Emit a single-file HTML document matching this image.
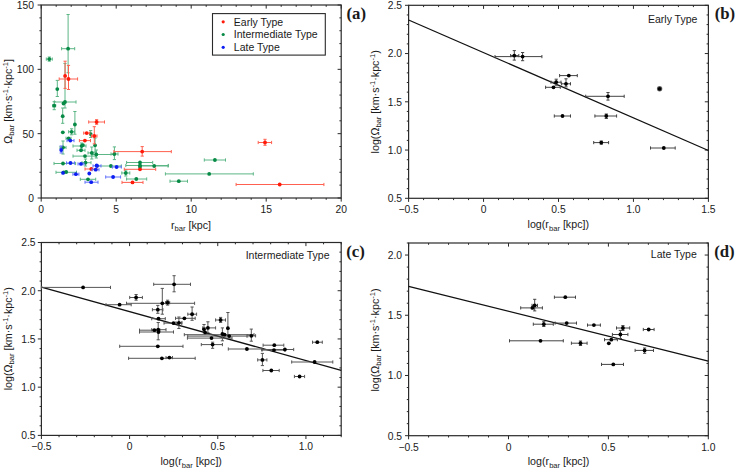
<!DOCTYPE html>
<html><head><meta charset="utf-8"><style>
html,body{margin:0;padding:0;background:#fff;}
svg{display:block;}
text{font-family:"Liberation Sans", sans-serif;fill:#1a1a1a;}
</style></head><body>
<svg width="735" height="469" viewBox="0 0 735 469">
<rect width="735" height="469" fill="#fff"/>
<g>
<rect x="41.20" y="5.00" width="300.00" height="193.00" fill="none" stroke="#2a2a2a" stroke-width="1.2"/>
<line x1="41.20" y1="198.00" x2="41.20" y2="201.60" stroke="#2a2a2a" stroke-width="1.0"/>
<line x1="41.20" y1="5.00" x2="41.20" y2="8.60" stroke="#2a2a2a" stroke-width="1.0"/>
<line x1="56.20" y1="198.00" x2="56.20" y2="199.80" stroke="#2a2a2a" stroke-width="1.0"/>
<line x1="56.20" y1="5.00" x2="56.20" y2="6.80" stroke="#2a2a2a" stroke-width="1.0"/>
<line x1="71.20" y1="198.00" x2="71.20" y2="199.80" stroke="#2a2a2a" stroke-width="1.0"/>
<line x1="71.20" y1="5.00" x2="71.20" y2="6.80" stroke="#2a2a2a" stroke-width="1.0"/>
<line x1="86.20" y1="198.00" x2="86.20" y2="199.80" stroke="#2a2a2a" stroke-width="1.0"/>
<line x1="86.20" y1="5.00" x2="86.20" y2="6.80" stroke="#2a2a2a" stroke-width="1.0"/>
<line x1="101.20" y1="198.00" x2="101.20" y2="199.80" stroke="#2a2a2a" stroke-width="1.0"/>
<line x1="101.20" y1="5.00" x2="101.20" y2="6.80" stroke="#2a2a2a" stroke-width="1.0"/>
<line x1="116.20" y1="198.00" x2="116.20" y2="201.60" stroke="#2a2a2a" stroke-width="1.0"/>
<line x1="116.20" y1="5.00" x2="116.20" y2="8.60" stroke="#2a2a2a" stroke-width="1.0"/>
<line x1="131.20" y1="198.00" x2="131.20" y2="199.80" stroke="#2a2a2a" stroke-width="1.0"/>
<line x1="131.20" y1="5.00" x2="131.20" y2="6.80" stroke="#2a2a2a" stroke-width="1.0"/>
<line x1="146.20" y1="198.00" x2="146.20" y2="199.80" stroke="#2a2a2a" stroke-width="1.0"/>
<line x1="146.20" y1="5.00" x2="146.20" y2="6.80" stroke="#2a2a2a" stroke-width="1.0"/>
<line x1="161.20" y1="198.00" x2="161.20" y2="199.80" stroke="#2a2a2a" stroke-width="1.0"/>
<line x1="161.20" y1="5.00" x2="161.20" y2="6.80" stroke="#2a2a2a" stroke-width="1.0"/>
<line x1="176.20" y1="198.00" x2="176.20" y2="199.80" stroke="#2a2a2a" stroke-width="1.0"/>
<line x1="176.20" y1="5.00" x2="176.20" y2="6.80" stroke="#2a2a2a" stroke-width="1.0"/>
<line x1="191.20" y1="198.00" x2="191.20" y2="201.60" stroke="#2a2a2a" stroke-width="1.0"/>
<line x1="191.20" y1="5.00" x2="191.20" y2="8.60" stroke="#2a2a2a" stroke-width="1.0"/>
<line x1="206.20" y1="198.00" x2="206.20" y2="199.80" stroke="#2a2a2a" stroke-width="1.0"/>
<line x1="206.20" y1="5.00" x2="206.20" y2="6.80" stroke="#2a2a2a" stroke-width="1.0"/>
<line x1="221.20" y1="198.00" x2="221.20" y2="199.80" stroke="#2a2a2a" stroke-width="1.0"/>
<line x1="221.20" y1="5.00" x2="221.20" y2="6.80" stroke="#2a2a2a" stroke-width="1.0"/>
<line x1="236.20" y1="198.00" x2="236.20" y2="199.80" stroke="#2a2a2a" stroke-width="1.0"/>
<line x1="236.20" y1="5.00" x2="236.20" y2="6.80" stroke="#2a2a2a" stroke-width="1.0"/>
<line x1="251.20" y1="198.00" x2="251.20" y2="199.80" stroke="#2a2a2a" stroke-width="1.0"/>
<line x1="251.20" y1="5.00" x2="251.20" y2="6.80" stroke="#2a2a2a" stroke-width="1.0"/>
<line x1="266.20" y1="198.00" x2="266.20" y2="201.60" stroke="#2a2a2a" stroke-width="1.0"/>
<line x1="266.20" y1="5.00" x2="266.20" y2="8.60" stroke="#2a2a2a" stroke-width="1.0"/>
<line x1="281.20" y1="198.00" x2="281.20" y2="199.80" stroke="#2a2a2a" stroke-width="1.0"/>
<line x1="281.20" y1="5.00" x2="281.20" y2="6.80" stroke="#2a2a2a" stroke-width="1.0"/>
<line x1="296.20" y1="198.00" x2="296.20" y2="199.80" stroke="#2a2a2a" stroke-width="1.0"/>
<line x1="296.20" y1="5.00" x2="296.20" y2="6.80" stroke="#2a2a2a" stroke-width="1.0"/>
<line x1="311.20" y1="198.00" x2="311.20" y2="199.80" stroke="#2a2a2a" stroke-width="1.0"/>
<line x1="311.20" y1="5.00" x2="311.20" y2="6.80" stroke="#2a2a2a" stroke-width="1.0"/>
<line x1="326.20" y1="198.00" x2="326.20" y2="199.80" stroke="#2a2a2a" stroke-width="1.0"/>
<line x1="326.20" y1="5.00" x2="326.20" y2="6.80" stroke="#2a2a2a" stroke-width="1.0"/>
<line x1="341.20" y1="198.00" x2="341.20" y2="201.60" stroke="#2a2a2a" stroke-width="1.0"/>
<line x1="341.20" y1="5.00" x2="341.20" y2="8.60" stroke="#2a2a2a" stroke-width="1.0"/>
<line x1="37.60" y1="198.00" x2="41.20" y2="198.00" stroke="#2a2a2a" stroke-width="1.0"/>
<line x1="337.60" y1="198.00" x2="341.20" y2="198.00" stroke="#2a2a2a" stroke-width="1.0"/>
<line x1="39.40" y1="185.13" x2="41.20" y2="185.13" stroke="#2a2a2a" stroke-width="1.0"/>
<line x1="339.40" y1="185.13" x2="341.20" y2="185.13" stroke="#2a2a2a" stroke-width="1.0"/>
<line x1="39.40" y1="172.27" x2="41.20" y2="172.27" stroke="#2a2a2a" stroke-width="1.0"/>
<line x1="339.40" y1="172.27" x2="341.20" y2="172.27" stroke="#2a2a2a" stroke-width="1.0"/>
<line x1="39.40" y1="159.40" x2="41.20" y2="159.40" stroke="#2a2a2a" stroke-width="1.0"/>
<line x1="339.40" y1="159.40" x2="341.20" y2="159.40" stroke="#2a2a2a" stroke-width="1.0"/>
<line x1="39.40" y1="146.53" x2="41.20" y2="146.53" stroke="#2a2a2a" stroke-width="1.0"/>
<line x1="339.40" y1="146.53" x2="341.20" y2="146.53" stroke="#2a2a2a" stroke-width="1.0"/>
<line x1="37.60" y1="133.67" x2="41.20" y2="133.67" stroke="#2a2a2a" stroke-width="1.0"/>
<line x1="337.60" y1="133.67" x2="341.20" y2="133.67" stroke="#2a2a2a" stroke-width="1.0"/>
<line x1="39.40" y1="120.80" x2="41.20" y2="120.80" stroke="#2a2a2a" stroke-width="1.0"/>
<line x1="339.40" y1="120.80" x2="341.20" y2="120.80" stroke="#2a2a2a" stroke-width="1.0"/>
<line x1="39.40" y1="107.93" x2="41.20" y2="107.93" stroke="#2a2a2a" stroke-width="1.0"/>
<line x1="339.40" y1="107.93" x2="341.20" y2="107.93" stroke="#2a2a2a" stroke-width="1.0"/>
<line x1="39.40" y1="95.07" x2="41.20" y2="95.07" stroke="#2a2a2a" stroke-width="1.0"/>
<line x1="339.40" y1="95.07" x2="341.20" y2="95.07" stroke="#2a2a2a" stroke-width="1.0"/>
<line x1="39.40" y1="82.20" x2="41.20" y2="82.20" stroke="#2a2a2a" stroke-width="1.0"/>
<line x1="339.40" y1="82.20" x2="341.20" y2="82.20" stroke="#2a2a2a" stroke-width="1.0"/>
<line x1="37.60" y1="69.33" x2="41.20" y2="69.33" stroke="#2a2a2a" stroke-width="1.0"/>
<line x1="337.60" y1="69.33" x2="341.20" y2="69.33" stroke="#2a2a2a" stroke-width="1.0"/>
<line x1="39.40" y1="56.47" x2="41.20" y2="56.47" stroke="#2a2a2a" stroke-width="1.0"/>
<line x1="339.40" y1="56.47" x2="341.20" y2="56.47" stroke="#2a2a2a" stroke-width="1.0"/>
<line x1="39.40" y1="43.60" x2="41.20" y2="43.60" stroke="#2a2a2a" stroke-width="1.0"/>
<line x1="339.40" y1="43.60" x2="341.20" y2="43.60" stroke="#2a2a2a" stroke-width="1.0"/>
<line x1="39.40" y1="30.73" x2="41.20" y2="30.73" stroke="#2a2a2a" stroke-width="1.0"/>
<line x1="339.40" y1="30.73" x2="341.20" y2="30.73" stroke="#2a2a2a" stroke-width="1.0"/>
<line x1="39.40" y1="17.87" x2="41.20" y2="17.87" stroke="#2a2a2a" stroke-width="1.0"/>
<line x1="339.40" y1="17.87" x2="341.20" y2="17.87" stroke="#2a2a2a" stroke-width="1.0"/>
<line x1="37.60" y1="5.00" x2="41.20" y2="5.00" stroke="#2a2a2a" stroke-width="1.0"/>
<line x1="337.60" y1="5.00" x2="341.20" y2="5.00" stroke="#2a2a2a" stroke-width="1.0"/>
<text x="41.20" y="212.70" font-size="10.3" text-anchor="middle" >0</text>
<text x="116.20" y="212.70" font-size="10.3" text-anchor="middle" >5</text>
<text x="191.20" y="212.70" font-size="10.3" text-anchor="middle" >10</text>
<text x="266.20" y="212.70" font-size="10.3" text-anchor="middle" >15</text>
<text x="341.20" y="212.70" font-size="10.3" text-anchor="middle" >20</text>
<text x="34.00" y="201.90" font-size="10.3" text-anchor="end" >0</text>
<text x="34.00" y="137.57" font-size="10.3" text-anchor="end" >50</text>
<text x="34.00" y="73.23" font-size="10.3" text-anchor="end" >100</text>
<text x="34.00" y="8.90" font-size="10.3" text-anchor="end" >150</text>
<line x1="61.60" y1="48.70" x2="74.70" y2="48.70" stroke="#5cb686" stroke-width="1.0"/>
<line x1="61.60" y1="47.10" x2="61.60" y2="50.30" stroke="#5cb686" stroke-width="1.0"/>
<line x1="74.70" y1="47.10" x2="74.70" y2="50.30" stroke="#5cb686" stroke-width="1.0"/>
<line x1="68.10" y1="14.50" x2="68.10" y2="72.80" stroke="#5cb686" stroke-width="1.0"/>
<line x1="66.50" y1="14.50" x2="69.70" y2="14.50" stroke="#5cb686" stroke-width="1.0"/>
<line x1="66.50" y1="72.80" x2="69.70" y2="72.80" stroke="#5cb686" stroke-width="1.0"/>
<line x1="46.30" y1="59.10" x2="52.30" y2="59.10" stroke="#5cb686" stroke-width="1.0"/>
<line x1="46.30" y1="57.50" x2="46.30" y2="60.70" stroke="#5cb686" stroke-width="1.0"/>
<line x1="52.30" y1="57.50" x2="52.30" y2="60.70" stroke="#5cb686" stroke-width="1.0"/>
<line x1="49.30" y1="57.00" x2="49.30" y2="61.20" stroke="#5cb686" stroke-width="1.0"/>
<line x1="47.70" y1="57.00" x2="50.90" y2="57.00" stroke="#5cb686" stroke-width="1.0"/>
<line x1="47.70" y1="61.20" x2="50.90" y2="61.20" stroke="#5cb686" stroke-width="1.0"/>
<line x1="57.30" y1="80.40" x2="57.30" y2="96.50" stroke="#5cb686" stroke-width="1.0"/>
<line x1="55.70" y1="80.40" x2="58.90" y2="80.40" stroke="#5cb686" stroke-width="1.0"/>
<line x1="55.70" y1="96.50" x2="58.90" y2="96.50" stroke="#5cb686" stroke-width="1.0"/>
<line x1="54.40" y1="102.00" x2="76.00" y2="102.00" stroke="#5cb686" stroke-width="1.0"/>
<line x1="54.40" y1="100.40" x2="54.40" y2="103.60" stroke="#5cb686" stroke-width="1.0"/>
<line x1="76.00" y1="100.40" x2="76.00" y2="103.60" stroke="#5cb686" stroke-width="1.0"/>
<line x1="65.00" y1="63.40" x2="65.00" y2="108.00" stroke="#5cb686" stroke-width="1.0"/>
<line x1="63.40" y1="63.40" x2="66.60" y2="63.40" stroke="#5cb686" stroke-width="1.0"/>
<line x1="63.40" y1="108.00" x2="66.60" y2="108.00" stroke="#5cb686" stroke-width="1.0"/>
<line x1="52.70" y1="105.70" x2="55.70" y2="105.70" stroke="#5cb686" stroke-width="1.0"/>
<line x1="52.70" y1="104.10" x2="52.70" y2="107.30" stroke="#5cb686" stroke-width="1.0"/>
<line x1="55.70" y1="104.10" x2="55.70" y2="107.30" stroke="#5cb686" stroke-width="1.0"/>
<line x1="54.20" y1="101.70" x2="54.20" y2="109.70" stroke="#5cb686" stroke-width="1.0"/>
<line x1="52.60" y1="101.70" x2="55.80" y2="101.70" stroke="#5cb686" stroke-width="1.0"/>
<line x1="52.60" y1="109.70" x2="55.80" y2="109.70" stroke="#5cb686" stroke-width="1.0"/>
<line x1="62.70" y1="108.00" x2="62.70" y2="123.30" stroke="#5cb686" stroke-width="1.0"/>
<line x1="61.10" y1="108.00" x2="64.30" y2="108.00" stroke="#5cb686" stroke-width="1.0"/>
<line x1="61.10" y1="123.30" x2="64.30" y2="123.30" stroke="#5cb686" stroke-width="1.0"/>
<line x1="74.90" y1="111.50" x2="74.90" y2="134.20" stroke="#5cb686" stroke-width="1.0"/>
<line x1="73.30" y1="111.50" x2="76.50" y2="111.50" stroke="#5cb686" stroke-width="1.0"/>
<line x1="73.30" y1="134.20" x2="76.50" y2="134.20" stroke="#5cb686" stroke-width="1.0"/>
<line x1="68.60" y1="131.80" x2="74.60" y2="131.80" stroke="#5cb686" stroke-width="1.0"/>
<line x1="68.60" y1="130.20" x2="68.60" y2="133.40" stroke="#5cb686" stroke-width="1.0"/>
<line x1="74.60" y1="130.20" x2="74.60" y2="133.40" stroke="#5cb686" stroke-width="1.0"/>
<line x1="71.60" y1="128.80" x2="71.60" y2="134.80" stroke="#5cb686" stroke-width="1.0"/>
<line x1="70.00" y1="128.80" x2="73.20" y2="128.80" stroke="#5cb686" stroke-width="1.0"/>
<line x1="70.00" y1="134.80" x2="73.20" y2="134.80" stroke="#5cb686" stroke-width="1.0"/>
<line x1="90.70" y1="130.50" x2="90.70" y2="137.50" stroke="#5cb686" stroke-width="1.0"/>
<line x1="89.10" y1="130.50" x2="92.30" y2="130.50" stroke="#5cb686" stroke-width="1.0"/>
<line x1="89.10" y1="137.50" x2="92.30" y2="137.50" stroke="#5cb686" stroke-width="1.0"/>
<line x1="66.00" y1="138.30" x2="71.00" y2="138.30" stroke="#5cb686" stroke-width="1.0"/>
<line x1="66.00" y1="136.70" x2="66.00" y2="139.90" stroke="#5cb686" stroke-width="1.0"/>
<line x1="71.00" y1="136.70" x2="71.00" y2="139.90" stroke="#5cb686" stroke-width="1.0"/>
<line x1="60.00" y1="147.50" x2="66.00" y2="147.50" stroke="#5cb686" stroke-width="1.0"/>
<line x1="60.00" y1="145.90" x2="60.00" y2="149.10" stroke="#5cb686" stroke-width="1.0"/>
<line x1="66.00" y1="145.90" x2="66.00" y2="149.10" stroke="#5cb686" stroke-width="1.0"/>
<line x1="63.00" y1="141.00" x2="63.00" y2="154.00" stroke="#5cb686" stroke-width="1.0"/>
<line x1="61.40" y1="141.00" x2="64.60" y2="141.00" stroke="#5cb686" stroke-width="1.0"/>
<line x1="61.40" y1="154.00" x2="64.60" y2="154.00" stroke="#5cb686" stroke-width="1.0"/>
<line x1="73.00" y1="146.00" x2="86.00" y2="146.00" stroke="#5cb686" stroke-width="1.0"/>
<line x1="73.00" y1="144.40" x2="73.00" y2="147.60" stroke="#5cb686" stroke-width="1.0"/>
<line x1="86.00" y1="144.40" x2="86.00" y2="147.60" stroke="#5cb686" stroke-width="1.0"/>
<line x1="81.60" y1="143.00" x2="81.60" y2="149.00" stroke="#5cb686" stroke-width="1.0"/>
<line x1="80.00" y1="143.00" x2="83.20" y2="143.00" stroke="#5cb686" stroke-width="1.0"/>
<line x1="80.00" y1="149.00" x2="83.20" y2="149.00" stroke="#5cb686" stroke-width="1.0"/>
<line x1="77.00" y1="150.30" x2="85.00" y2="150.30" stroke="#5cb686" stroke-width="1.0"/>
<line x1="77.00" y1="148.70" x2="77.00" y2="151.90" stroke="#5cb686" stroke-width="1.0"/>
<line x1="85.00" y1="148.70" x2="85.00" y2="151.90" stroke="#5cb686" stroke-width="1.0"/>
<line x1="95.10" y1="138.00" x2="95.10" y2="152.00" stroke="#5cb686" stroke-width="1.0"/>
<line x1="93.50" y1="138.00" x2="96.70" y2="138.00" stroke="#5cb686" stroke-width="1.0"/>
<line x1="93.50" y1="152.00" x2="96.70" y2="152.00" stroke="#5cb686" stroke-width="1.0"/>
<line x1="88.00" y1="152.90" x2="96.00" y2="152.90" stroke="#5cb686" stroke-width="1.0"/>
<line x1="88.00" y1="151.30" x2="88.00" y2="154.50" stroke="#5cb686" stroke-width="1.0"/>
<line x1="96.00" y1="151.30" x2="96.00" y2="154.50" stroke="#5cb686" stroke-width="1.0"/>
<line x1="91.80" y1="147.00" x2="91.80" y2="159.00" stroke="#5cb686" stroke-width="1.0"/>
<line x1="90.20" y1="147.00" x2="93.40" y2="147.00" stroke="#5cb686" stroke-width="1.0"/>
<line x1="90.20" y1="159.00" x2="93.40" y2="159.00" stroke="#5cb686" stroke-width="1.0"/>
<line x1="92.00" y1="154.50" x2="114.00" y2="154.50" stroke="#5cb686" stroke-width="1.0"/>
<line x1="92.00" y1="152.90" x2="92.00" y2="156.10" stroke="#5cb686" stroke-width="1.0"/>
<line x1="114.00" y1="152.90" x2="114.00" y2="156.10" stroke="#5cb686" stroke-width="1.0"/>
<line x1="96.30" y1="150.00" x2="96.30" y2="158.00" stroke="#5cb686" stroke-width="1.0"/>
<line x1="94.70" y1="150.00" x2="97.90" y2="150.00" stroke="#5cb686" stroke-width="1.0"/>
<line x1="94.70" y1="158.00" x2="97.90" y2="158.00" stroke="#5cb686" stroke-width="1.0"/>
<line x1="73.00" y1="156.10" x2="96.00" y2="156.10" stroke="#5cb686" stroke-width="1.0"/>
<line x1="73.00" y1="154.50" x2="73.00" y2="157.70" stroke="#5cb686" stroke-width="1.0"/>
<line x1="96.00" y1="154.50" x2="96.00" y2="157.70" stroke="#5cb686" stroke-width="1.0"/>
<line x1="111.00" y1="154.00" x2="118.00" y2="154.00" stroke="#5cb686" stroke-width="1.0"/>
<line x1="111.00" y1="152.40" x2="111.00" y2="155.60" stroke="#5cb686" stroke-width="1.0"/>
<line x1="118.00" y1="152.40" x2="118.00" y2="155.60" stroke="#5cb686" stroke-width="1.0"/>
<line x1="114.40" y1="146.90" x2="114.40" y2="159.60" stroke="#5cb686" stroke-width="1.0"/>
<line x1="112.80" y1="146.90" x2="116.00" y2="146.90" stroke="#5cb686" stroke-width="1.0"/>
<line x1="112.80" y1="159.60" x2="116.00" y2="159.60" stroke="#5cb686" stroke-width="1.0"/>
<line x1="54.00" y1="163.50" x2="75.60" y2="163.50" stroke="#5cb686" stroke-width="1.0"/>
<line x1="54.00" y1="161.90" x2="54.00" y2="165.10" stroke="#5cb686" stroke-width="1.0"/>
<line x1="75.60" y1="161.90" x2="75.60" y2="165.10" stroke="#5cb686" stroke-width="1.0"/>
<line x1="82.00" y1="162.70" x2="91.00" y2="162.70" stroke="#5cb686" stroke-width="1.0"/>
<line x1="82.00" y1="161.10" x2="82.00" y2="164.30" stroke="#5cb686" stroke-width="1.0"/>
<line x1="91.00" y1="161.10" x2="91.00" y2="164.30" stroke="#5cb686" stroke-width="1.0"/>
<line x1="85.50" y1="159.00" x2="85.50" y2="166.00" stroke="#5cb686" stroke-width="1.0"/>
<line x1="83.90" y1="159.00" x2="87.10" y2="159.00" stroke="#5cb686" stroke-width="1.0"/>
<line x1="83.90" y1="166.00" x2="87.10" y2="166.00" stroke="#5cb686" stroke-width="1.0"/>
<line x1="97.50" y1="166.00" x2="121.30" y2="166.00" stroke="#5cb686" stroke-width="1.0"/>
<line x1="97.50" y1="164.40" x2="97.50" y2="167.60" stroke="#5cb686" stroke-width="1.0"/>
<line x1="121.30" y1="164.40" x2="121.30" y2="167.60" stroke="#5cb686" stroke-width="1.0"/>
<line x1="56.00" y1="172.30" x2="76.50" y2="172.30" stroke="#5cb686" stroke-width="1.0"/>
<line x1="56.00" y1="170.70" x2="56.00" y2="173.90" stroke="#5cb686" stroke-width="1.0"/>
<line x1="76.50" y1="170.70" x2="76.50" y2="173.90" stroke="#5cb686" stroke-width="1.0"/>
<line x1="80.30" y1="179.30" x2="95.70" y2="179.30" stroke="#5cb686" stroke-width="1.0"/>
<line x1="80.30" y1="177.70" x2="80.30" y2="180.90" stroke="#5cb686" stroke-width="1.0"/>
<line x1="95.70" y1="177.70" x2="95.70" y2="180.90" stroke="#5cb686" stroke-width="1.0"/>
<line x1="121.80" y1="173.00" x2="129.80" y2="173.00" stroke="#5cb686" stroke-width="1.0"/>
<line x1="121.80" y1="171.40" x2="121.80" y2="174.60" stroke="#5cb686" stroke-width="1.0"/>
<line x1="129.80" y1="171.40" x2="129.80" y2="174.60" stroke="#5cb686" stroke-width="1.0"/>
<line x1="125.80" y1="170.00" x2="125.80" y2="176.00" stroke="#5cb686" stroke-width="1.0"/>
<line x1="124.20" y1="170.00" x2="127.40" y2="170.00" stroke="#5cb686" stroke-width="1.0"/>
<line x1="124.20" y1="176.00" x2="127.40" y2="176.00" stroke="#5cb686" stroke-width="1.0"/>
<line x1="126.60" y1="179.00" x2="146.70" y2="179.00" stroke="#5cb686" stroke-width="1.0"/>
<line x1="126.60" y1="177.40" x2="126.60" y2="180.60" stroke="#5cb686" stroke-width="1.0"/>
<line x1="146.70" y1="177.40" x2="146.70" y2="180.60" stroke="#5cb686" stroke-width="1.0"/>
<line x1="126.60" y1="162.50" x2="152.70" y2="162.50" stroke="#5cb686" stroke-width="1.0"/>
<line x1="126.60" y1="160.90" x2="126.60" y2="164.10" stroke="#5cb686" stroke-width="1.0"/>
<line x1="152.70" y1="160.90" x2="152.70" y2="164.10" stroke="#5cb686" stroke-width="1.0"/>
<line x1="125.80" y1="165.50" x2="168.40" y2="165.50" stroke="#5cb686" stroke-width="1.0"/>
<line x1="125.80" y1="163.90" x2="125.80" y2="167.10" stroke="#5cb686" stroke-width="1.0"/>
<line x1="168.40" y1="163.90" x2="168.40" y2="167.10" stroke="#5cb686" stroke-width="1.0"/>
<line x1="140.00" y1="166.00" x2="168.00" y2="166.00" stroke="#5cb686" stroke-width="1.0"/>
<line x1="140.00" y1="164.40" x2="140.00" y2="167.60" stroke="#5cb686" stroke-width="1.0"/>
<line x1="168.00" y1="164.40" x2="168.00" y2="167.60" stroke="#5cb686" stroke-width="1.0"/>
<line x1="170.00" y1="181.20" x2="187.50" y2="181.20" stroke="#5cb686" stroke-width="1.0"/>
<line x1="170.00" y1="179.60" x2="170.00" y2="182.80" stroke="#5cb686" stroke-width="1.0"/>
<line x1="187.50" y1="179.60" x2="187.50" y2="182.80" stroke="#5cb686" stroke-width="1.0"/>
<line x1="165.40" y1="173.90" x2="253.30" y2="173.90" stroke="#5cb686" stroke-width="1.0"/>
<line x1="165.40" y1="172.30" x2="165.40" y2="175.50" stroke="#5cb686" stroke-width="1.0"/>
<line x1="253.30" y1="172.30" x2="253.30" y2="175.50" stroke="#5cb686" stroke-width="1.0"/>
<line x1="204.30" y1="160.00" x2="225.50" y2="160.00" stroke="#5cb686" stroke-width="1.0"/>
<line x1="204.30" y1="158.40" x2="204.30" y2="161.60" stroke="#5cb686" stroke-width="1.0"/>
<line x1="225.50" y1="158.40" x2="225.50" y2="161.60" stroke="#5cb686" stroke-width="1.0"/>
<circle cx="68.10" cy="48.70" r="1.9" fill="#078a45"/>
<circle cx="49.30" cy="59.10" r="1.9" fill="#078a45"/>
<circle cx="57.30" cy="89.10" r="1.9" fill="#078a45"/>
<circle cx="65.00" cy="102.00" r="1.9" fill="#078a45"/>
<circle cx="63.50" cy="103.50" r="1.9" fill="#078a45"/>
<circle cx="54.20" cy="105.70" r="1.9" fill="#078a45"/>
<circle cx="62.70" cy="116.20" r="1.9" fill="#078a45"/>
<circle cx="74.90" cy="124.50" r="1.9" fill="#078a45"/>
<circle cx="62.80" cy="132.30" r="1.9" fill="#078a45"/>
<circle cx="71.60" cy="131.80" r="1.9" fill="#078a45"/>
<circle cx="90.70" cy="134.10" r="1.9" fill="#078a45"/>
<circle cx="68.60" cy="138.30" r="1.9" fill="#078a45"/>
<circle cx="63.00" cy="147.50" r="1.9" fill="#078a45"/>
<circle cx="81.60" cy="146.00" r="1.9" fill="#078a45"/>
<circle cx="82.90" cy="145.10" r="1.9" fill="#078a45"/>
<circle cx="81.00" cy="150.30" r="1.9" fill="#078a45"/>
<circle cx="95.10" cy="145.30" r="1.9" fill="#078a45"/>
<circle cx="91.80" cy="152.90" r="1.9" fill="#078a45"/>
<circle cx="96.30" cy="154.50" r="1.9" fill="#078a45"/>
<circle cx="85.00" cy="156.10" r="1.9" fill="#078a45"/>
<circle cx="114.40" cy="154.00" r="1.9" fill="#078a45"/>
<circle cx="63.00" cy="163.50" r="1.9" fill="#078a45"/>
<circle cx="85.50" cy="162.70" r="1.9" fill="#078a45"/>
<circle cx="110.90" cy="166.00" r="1.9" fill="#078a45"/>
<circle cx="63.70" cy="172.30" r="1.9" fill="#078a45"/>
<circle cx="66.20" cy="172.00" r="1.9" fill="#078a45"/>
<circle cx="88.00" cy="179.30" r="1.9" fill="#078a45"/>
<circle cx="125.80" cy="173.00" r="1.9" fill="#078a45"/>
<circle cx="136.30" cy="179.00" r="1.9" fill="#078a45"/>
<circle cx="140.00" cy="162.50" r="1.9" fill="#078a45"/>
<circle cx="140.00" cy="165.50" r="1.9" fill="#078a45"/>
<circle cx="140.00" cy="167.00" r="1.9" fill="#078a45"/>
<circle cx="154.20" cy="166.00" r="1.9" fill="#078a45"/>
<circle cx="178.80" cy="181.20" r="1.9" fill="#078a45"/>
<circle cx="209.20" cy="173.90" r="1.9" fill="#078a45"/>
<circle cx="214.90" cy="160.00" r="1.9" fill="#078a45"/>
<line x1="65.10" y1="61.20" x2="65.10" y2="88.40" stroke="#ff6050" stroke-width="1.0"/>
<line x1="63.50" y1="61.20" x2="66.70" y2="61.20" stroke="#ff6050" stroke-width="1.0"/>
<line x1="63.50" y1="88.40" x2="66.70" y2="88.40" stroke="#ff6050" stroke-width="1.0"/>
<line x1="59.20" y1="79.00" x2="77.60" y2="79.00" stroke="#ff6050" stroke-width="1.0"/>
<line x1="59.20" y1="77.40" x2="59.20" y2="80.60" stroke="#ff6050" stroke-width="1.0"/>
<line x1="77.60" y1="77.40" x2="77.60" y2="80.60" stroke="#ff6050" stroke-width="1.0"/>
<line x1="68.50" y1="65.40" x2="68.50" y2="89.50" stroke="#ff6050" stroke-width="1.0"/>
<line x1="66.90" y1="65.40" x2="70.10" y2="65.40" stroke="#ff6050" stroke-width="1.0"/>
<line x1="66.90" y1="89.50" x2="70.10" y2="89.50" stroke="#ff6050" stroke-width="1.0"/>
<line x1="88.70" y1="122.00" x2="104.50" y2="122.00" stroke="#ff6050" stroke-width="1.0"/>
<line x1="88.70" y1="120.40" x2="88.70" y2="123.60" stroke="#ff6050" stroke-width="1.0"/>
<line x1="104.50" y1="120.40" x2="104.50" y2="123.60" stroke="#ff6050" stroke-width="1.0"/>
<line x1="96.60" y1="119.70" x2="96.60" y2="124.30" stroke="#ff6050" stroke-width="1.0"/>
<line x1="95.00" y1="119.70" x2="98.20" y2="119.70" stroke="#ff6050" stroke-width="1.0"/>
<line x1="95.00" y1="124.30" x2="98.20" y2="124.30" stroke="#ff6050" stroke-width="1.0"/>
<line x1="83.70" y1="133.10" x2="89.70" y2="133.10" stroke="#ff6050" stroke-width="1.0"/>
<line x1="83.70" y1="131.50" x2="83.70" y2="134.70" stroke="#ff6050" stroke-width="1.0"/>
<line x1="89.70" y1="131.50" x2="89.70" y2="134.70" stroke="#ff6050" stroke-width="1.0"/>
<line x1="91.50" y1="136.00" x2="97.00" y2="136.00" stroke="#ff6050" stroke-width="1.0"/>
<line x1="91.50" y1="134.40" x2="91.50" y2="137.60" stroke="#ff6050" stroke-width="1.0"/>
<line x1="97.00" y1="134.40" x2="97.00" y2="137.60" stroke="#ff6050" stroke-width="1.0"/>
<line x1="94.30" y1="126.70" x2="94.30" y2="143.90" stroke="#ff6050" stroke-width="1.0"/>
<line x1="92.70" y1="126.70" x2="95.90" y2="126.70" stroke="#ff6050" stroke-width="1.0"/>
<line x1="92.70" y1="143.90" x2="95.90" y2="143.90" stroke="#ff6050" stroke-width="1.0"/>
<line x1="79.40" y1="140.60" x2="90.50" y2="140.60" stroke="#ff6050" stroke-width="1.0"/>
<line x1="79.40" y1="139.00" x2="79.40" y2="142.20" stroke="#ff6050" stroke-width="1.0"/>
<line x1="90.50" y1="139.00" x2="90.50" y2="142.20" stroke="#ff6050" stroke-width="1.0"/>
<line x1="85.00" y1="169.00" x2="97.00" y2="169.00" stroke="#ff6050" stroke-width="1.0"/>
<line x1="85.00" y1="167.40" x2="85.00" y2="170.60" stroke="#ff6050" stroke-width="1.0"/>
<line x1="97.00" y1="167.40" x2="97.00" y2="170.60" stroke="#ff6050" stroke-width="1.0"/>
<line x1="113.90" y1="151.60" x2="171.30" y2="151.60" stroke="#ff6050" stroke-width="1.0"/>
<line x1="113.90" y1="150.00" x2="113.90" y2="153.20" stroke="#ff6050" stroke-width="1.0"/>
<line x1="171.30" y1="150.00" x2="171.30" y2="153.20" stroke="#ff6050" stroke-width="1.0"/>
<line x1="142.20" y1="146.60" x2="142.20" y2="156.10" stroke="#ff6050" stroke-width="1.0"/>
<line x1="140.60" y1="146.60" x2="143.80" y2="146.60" stroke="#ff6050" stroke-width="1.0"/>
<line x1="140.60" y1="156.10" x2="143.80" y2="156.10" stroke="#ff6050" stroke-width="1.0"/>
<line x1="124.30" y1="169.30" x2="155.70" y2="169.30" stroke="#ff6050" stroke-width="1.0"/>
<line x1="124.30" y1="167.70" x2="124.30" y2="170.90" stroke="#ff6050" stroke-width="1.0"/>
<line x1="155.70" y1="167.70" x2="155.70" y2="170.90" stroke="#ff6050" stroke-width="1.0"/>
<line x1="122.00" y1="182.40" x2="143.00" y2="182.40" stroke="#ff6050" stroke-width="1.0"/>
<line x1="122.00" y1="180.80" x2="122.00" y2="184.00" stroke="#ff6050" stroke-width="1.0"/>
<line x1="143.00" y1="180.80" x2="143.00" y2="184.00" stroke="#ff6050" stroke-width="1.0"/>
<line x1="258.20" y1="142.50" x2="271.60" y2="142.50" stroke="#ff6050" stroke-width="1.0"/>
<line x1="258.20" y1="140.90" x2="258.20" y2="144.10" stroke="#ff6050" stroke-width="1.0"/>
<line x1="271.60" y1="140.90" x2="271.60" y2="144.10" stroke="#ff6050" stroke-width="1.0"/>
<line x1="265.00" y1="139.30" x2="265.00" y2="145.30" stroke="#ff6050" stroke-width="1.0"/>
<line x1="263.40" y1="139.30" x2="266.60" y2="139.30" stroke="#ff6050" stroke-width="1.0"/>
<line x1="263.40" y1="145.30" x2="266.60" y2="145.30" stroke="#ff6050" stroke-width="1.0"/>
<line x1="236.10" y1="184.50" x2="323.90" y2="184.50" stroke="#ff6050" stroke-width="1.0"/>
<line x1="236.10" y1="182.90" x2="236.10" y2="186.10" stroke="#ff6050" stroke-width="1.0"/>
<line x1="323.90" y1="182.90" x2="323.90" y2="186.10" stroke="#ff6050" stroke-width="1.0"/>
<circle cx="65.10" cy="75.90" r="1.9" fill="#ff1a0a"/>
<circle cx="68.50" cy="79.00" r="1.9" fill="#ff1a0a"/>
<circle cx="96.60" cy="122.00" r="1.9" fill="#ff1a0a"/>
<circle cx="86.70" cy="133.10" r="1.9" fill="#ff1a0a"/>
<circle cx="94.30" cy="136.00" r="1.9" fill="#ff1a0a"/>
<circle cx="84.90" cy="140.60" r="1.9" fill="#ff1a0a"/>
<circle cx="91.30" cy="169.00" r="1.9" fill="#ff1a0a"/>
<circle cx="142.20" cy="151.60" r="1.9" fill="#ff1a0a"/>
<circle cx="140.00" cy="169.30" r="1.9" fill="#ff1a0a"/>
<circle cx="132.50" cy="182.40" r="1.9" fill="#ff1a0a"/>
<circle cx="265.00" cy="142.50" r="1.9" fill="#ff1a0a"/>
<circle cx="279.70" cy="184.50" r="1.9" fill="#ff1a0a"/>
<line x1="67.00" y1="140.60" x2="74.00" y2="140.60" stroke="#6272fa" stroke-width="1.0"/>
<line x1="67.00" y1="139.00" x2="67.00" y2="142.20" stroke="#6272fa" stroke-width="1.0"/>
<line x1="74.00" y1="139.00" x2="74.00" y2="142.20" stroke="#6272fa" stroke-width="1.0"/>
<line x1="61.20" y1="146.00" x2="61.20" y2="153.00" stroke="#6272fa" stroke-width="1.0"/>
<line x1="59.60" y1="146.00" x2="62.80" y2="146.00" stroke="#6272fa" stroke-width="1.0"/>
<line x1="59.60" y1="153.00" x2="62.80" y2="153.00" stroke="#6272fa" stroke-width="1.0"/>
<line x1="66.50" y1="163.00" x2="74.50" y2="163.00" stroke="#6272fa" stroke-width="1.0"/>
<line x1="66.50" y1="161.40" x2="66.50" y2="164.60" stroke="#6272fa" stroke-width="1.0"/>
<line x1="74.50" y1="161.40" x2="74.50" y2="164.60" stroke="#6272fa" stroke-width="1.0"/>
<line x1="78.00" y1="163.90" x2="84.00" y2="163.90" stroke="#6272fa" stroke-width="1.0"/>
<line x1="78.00" y1="162.30" x2="78.00" y2="165.50" stroke="#6272fa" stroke-width="1.0"/>
<line x1="84.00" y1="162.30" x2="84.00" y2="165.50" stroke="#6272fa" stroke-width="1.0"/>
<line x1="93.00" y1="165.90" x2="101.00" y2="165.90" stroke="#6272fa" stroke-width="1.0"/>
<line x1="93.00" y1="164.30" x2="93.00" y2="167.50" stroke="#6272fa" stroke-width="1.0"/>
<line x1="101.00" y1="164.30" x2="101.00" y2="167.50" stroke="#6272fa" stroke-width="1.0"/>
<line x1="72.90" y1="174.20" x2="78.90" y2="174.20" stroke="#6272fa" stroke-width="1.0"/>
<line x1="72.90" y1="172.60" x2="72.90" y2="175.80" stroke="#6272fa" stroke-width="1.0"/>
<line x1="78.90" y1="172.60" x2="78.90" y2="175.80" stroke="#6272fa" stroke-width="1.0"/>
<line x1="92.00" y1="169.70" x2="99.00" y2="169.70" stroke="#6272fa" stroke-width="1.0"/>
<line x1="92.00" y1="168.10" x2="92.00" y2="171.30" stroke="#6272fa" stroke-width="1.0"/>
<line x1="99.00" y1="168.10" x2="99.00" y2="171.30" stroke="#6272fa" stroke-width="1.0"/>
<line x1="85.00" y1="182.20" x2="98.00" y2="182.20" stroke="#6272fa" stroke-width="1.0"/>
<line x1="85.00" y1="180.60" x2="85.00" y2="183.80" stroke="#6272fa" stroke-width="1.0"/>
<line x1="98.00" y1="180.60" x2="98.00" y2="183.80" stroke="#6272fa" stroke-width="1.0"/>
<line x1="105.70" y1="177.00" x2="120.60" y2="177.00" stroke="#6272fa" stroke-width="1.0"/>
<line x1="105.70" y1="175.40" x2="105.70" y2="178.60" stroke="#6272fa" stroke-width="1.0"/>
<line x1="120.60" y1="175.40" x2="120.60" y2="178.60" stroke="#6272fa" stroke-width="1.0"/>
<line x1="112.40" y1="167.00" x2="121.30" y2="167.00" stroke="#6272fa" stroke-width="1.0"/>
<line x1="112.40" y1="165.40" x2="112.40" y2="168.60" stroke="#6272fa" stroke-width="1.0"/>
<line x1="121.30" y1="165.40" x2="121.30" y2="168.60" stroke="#6272fa" stroke-width="1.0"/>
<circle cx="70.30" cy="140.60" r="1.9" fill="#0c1ef2"/>
<circle cx="61.20" cy="150.00" r="1.9" fill="#0c1ef2"/>
<circle cx="70.50" cy="163.00" r="1.9" fill="#0c1ef2"/>
<circle cx="81.00" cy="163.90" r="1.9" fill="#0c1ef2"/>
<circle cx="97.00" cy="165.90" r="1.9" fill="#0c1ef2"/>
<circle cx="96.70" cy="165.50" r="1.9" fill="#0c1ef2"/>
<circle cx="63.00" cy="172.90" r="1.9" fill="#0c1ef2"/>
<circle cx="75.90" cy="174.20" r="1.9" fill="#0c1ef2"/>
<circle cx="89.30" cy="173.50" r="1.9" fill="#0c1ef2"/>
<circle cx="95.70" cy="169.70" r="1.9" fill="#0c1ef2"/>
<circle cx="91.20" cy="182.20" r="1.9" fill="#0c1ef2"/>
<circle cx="113.10" cy="177.00" r="1.9" fill="#0c1ef2"/>
<circle cx="116.60" cy="167.00" r="1.9" fill="#0c1ef2"/>
<rect x="212.5" y="13.6" width="112.8" height="41.5" fill="#fff" stroke="#2a2a2a" stroke-width="1.1"/>
<circle cx="223.2" cy="21.8" r="1.6" fill="#ff1a0a"/>
<text x="233.80" y="25.50" font-size="10.5" text-anchor="start" >Early Type</text>
<circle cx="223.2" cy="34.5" r="1.6" fill="#078a45"/>
<text x="233.80" y="38.20" font-size="10.5" text-anchor="start" >Intermediate Type</text>
<circle cx="223.2" cy="47.3" r="1.6" fill="#0c1ef2"/>
<text x="233.80" y="51.00" font-size="10.5" text-anchor="start" >Late Type</text>
</g>
<rect x="408.60" y="5.30" width="299.80" height="193.00" fill="none" stroke="#2a2a2a" stroke-width="1.2"/>
<line x1="408.60" y1="198.30" x2="408.60" y2="201.90" stroke="#2a2a2a" stroke-width="1.0"/>
<line x1="408.60" y1="5.30" x2="408.60" y2="8.90" stroke="#2a2a2a" stroke-width="1.0"/>
<line x1="423.59" y1="198.30" x2="423.59" y2="200.10" stroke="#2a2a2a" stroke-width="1.0"/>
<line x1="423.59" y1="5.30" x2="423.59" y2="7.10" stroke="#2a2a2a" stroke-width="1.0"/>
<line x1="438.58" y1="198.30" x2="438.58" y2="200.10" stroke="#2a2a2a" stroke-width="1.0"/>
<line x1="438.58" y1="5.30" x2="438.58" y2="7.10" stroke="#2a2a2a" stroke-width="1.0"/>
<line x1="453.57" y1="198.30" x2="453.57" y2="200.10" stroke="#2a2a2a" stroke-width="1.0"/>
<line x1="453.57" y1="5.30" x2="453.57" y2="7.10" stroke="#2a2a2a" stroke-width="1.0"/>
<line x1="468.56" y1="198.30" x2="468.56" y2="200.10" stroke="#2a2a2a" stroke-width="1.0"/>
<line x1="468.56" y1="5.30" x2="468.56" y2="7.10" stroke="#2a2a2a" stroke-width="1.0"/>
<line x1="483.55" y1="198.30" x2="483.55" y2="201.90" stroke="#2a2a2a" stroke-width="1.0"/>
<line x1="483.55" y1="5.30" x2="483.55" y2="8.90" stroke="#2a2a2a" stroke-width="1.0"/>
<line x1="498.54" y1="198.30" x2="498.54" y2="200.10" stroke="#2a2a2a" stroke-width="1.0"/>
<line x1="498.54" y1="5.30" x2="498.54" y2="7.10" stroke="#2a2a2a" stroke-width="1.0"/>
<line x1="513.53" y1="198.30" x2="513.53" y2="200.10" stroke="#2a2a2a" stroke-width="1.0"/>
<line x1="513.53" y1="5.30" x2="513.53" y2="7.10" stroke="#2a2a2a" stroke-width="1.0"/>
<line x1="528.52" y1="198.30" x2="528.52" y2="200.10" stroke="#2a2a2a" stroke-width="1.0"/>
<line x1="528.52" y1="5.30" x2="528.52" y2="7.10" stroke="#2a2a2a" stroke-width="1.0"/>
<line x1="543.51" y1="198.30" x2="543.51" y2="200.10" stroke="#2a2a2a" stroke-width="1.0"/>
<line x1="543.51" y1="5.30" x2="543.51" y2="7.10" stroke="#2a2a2a" stroke-width="1.0"/>
<line x1="558.50" y1="198.30" x2="558.50" y2="201.90" stroke="#2a2a2a" stroke-width="1.0"/>
<line x1="558.50" y1="5.30" x2="558.50" y2="8.90" stroke="#2a2a2a" stroke-width="1.0"/>
<line x1="573.49" y1="198.30" x2="573.49" y2="200.10" stroke="#2a2a2a" stroke-width="1.0"/>
<line x1="573.49" y1="5.30" x2="573.49" y2="7.10" stroke="#2a2a2a" stroke-width="1.0"/>
<line x1="588.48" y1="198.30" x2="588.48" y2="200.10" stroke="#2a2a2a" stroke-width="1.0"/>
<line x1="588.48" y1="5.30" x2="588.48" y2="7.10" stroke="#2a2a2a" stroke-width="1.0"/>
<line x1="603.47" y1="198.30" x2="603.47" y2="200.10" stroke="#2a2a2a" stroke-width="1.0"/>
<line x1="603.47" y1="5.30" x2="603.47" y2="7.10" stroke="#2a2a2a" stroke-width="1.0"/>
<line x1="618.46" y1="198.30" x2="618.46" y2="200.10" stroke="#2a2a2a" stroke-width="1.0"/>
<line x1="618.46" y1="5.30" x2="618.46" y2="7.10" stroke="#2a2a2a" stroke-width="1.0"/>
<line x1="633.45" y1="198.30" x2="633.45" y2="201.90" stroke="#2a2a2a" stroke-width="1.0"/>
<line x1="633.45" y1="5.30" x2="633.45" y2="8.90" stroke="#2a2a2a" stroke-width="1.0"/>
<line x1="648.44" y1="198.30" x2="648.44" y2="200.10" stroke="#2a2a2a" stroke-width="1.0"/>
<line x1="648.44" y1="5.30" x2="648.44" y2="7.10" stroke="#2a2a2a" stroke-width="1.0"/>
<line x1="663.43" y1="198.30" x2="663.43" y2="200.10" stroke="#2a2a2a" stroke-width="1.0"/>
<line x1="663.43" y1="5.30" x2="663.43" y2="7.10" stroke="#2a2a2a" stroke-width="1.0"/>
<line x1="678.42" y1="198.30" x2="678.42" y2="200.10" stroke="#2a2a2a" stroke-width="1.0"/>
<line x1="678.42" y1="5.30" x2="678.42" y2="7.10" stroke="#2a2a2a" stroke-width="1.0"/>
<line x1="693.41" y1="198.30" x2="693.41" y2="200.10" stroke="#2a2a2a" stroke-width="1.0"/>
<line x1="693.41" y1="5.30" x2="693.41" y2="7.10" stroke="#2a2a2a" stroke-width="1.0"/>
<line x1="708.40" y1="198.30" x2="708.40" y2="201.90" stroke="#2a2a2a" stroke-width="1.0"/>
<line x1="708.40" y1="5.30" x2="708.40" y2="8.90" stroke="#2a2a2a" stroke-width="1.0"/>
<line x1="405.00" y1="198.30" x2="408.60" y2="198.30" stroke="#2a2a2a" stroke-width="1.0"/>
<line x1="704.80" y1="198.30" x2="708.40" y2="198.30" stroke="#2a2a2a" stroke-width="1.0"/>
<line x1="406.80" y1="188.65" x2="408.60" y2="188.65" stroke="#2a2a2a" stroke-width="1.0"/>
<line x1="706.60" y1="188.65" x2="708.40" y2="188.65" stroke="#2a2a2a" stroke-width="1.0"/>
<line x1="406.80" y1="179.00" x2="408.60" y2="179.00" stroke="#2a2a2a" stroke-width="1.0"/>
<line x1="706.60" y1="179.00" x2="708.40" y2="179.00" stroke="#2a2a2a" stroke-width="1.0"/>
<line x1="406.80" y1="169.35" x2="408.60" y2="169.35" stroke="#2a2a2a" stroke-width="1.0"/>
<line x1="706.60" y1="169.35" x2="708.40" y2="169.35" stroke="#2a2a2a" stroke-width="1.0"/>
<line x1="406.80" y1="159.70" x2="408.60" y2="159.70" stroke="#2a2a2a" stroke-width="1.0"/>
<line x1="706.60" y1="159.70" x2="708.40" y2="159.70" stroke="#2a2a2a" stroke-width="1.0"/>
<line x1="405.00" y1="150.05" x2="408.60" y2="150.05" stroke="#2a2a2a" stroke-width="1.0"/>
<line x1="704.80" y1="150.05" x2="708.40" y2="150.05" stroke="#2a2a2a" stroke-width="1.0"/>
<line x1="406.80" y1="140.40" x2="408.60" y2="140.40" stroke="#2a2a2a" stroke-width="1.0"/>
<line x1="706.60" y1="140.40" x2="708.40" y2="140.40" stroke="#2a2a2a" stroke-width="1.0"/>
<line x1="406.80" y1="130.75" x2="408.60" y2="130.75" stroke="#2a2a2a" stroke-width="1.0"/>
<line x1="706.60" y1="130.75" x2="708.40" y2="130.75" stroke="#2a2a2a" stroke-width="1.0"/>
<line x1="406.80" y1="121.10" x2="408.60" y2="121.10" stroke="#2a2a2a" stroke-width="1.0"/>
<line x1="706.60" y1="121.10" x2="708.40" y2="121.10" stroke="#2a2a2a" stroke-width="1.0"/>
<line x1="406.80" y1="111.45" x2="408.60" y2="111.45" stroke="#2a2a2a" stroke-width="1.0"/>
<line x1="706.60" y1="111.45" x2="708.40" y2="111.45" stroke="#2a2a2a" stroke-width="1.0"/>
<line x1="405.00" y1="101.80" x2="408.60" y2="101.80" stroke="#2a2a2a" stroke-width="1.0"/>
<line x1="704.80" y1="101.80" x2="708.40" y2="101.80" stroke="#2a2a2a" stroke-width="1.0"/>
<line x1="406.80" y1="92.15" x2="408.60" y2="92.15" stroke="#2a2a2a" stroke-width="1.0"/>
<line x1="706.60" y1="92.15" x2="708.40" y2="92.15" stroke="#2a2a2a" stroke-width="1.0"/>
<line x1="406.80" y1="82.50" x2="408.60" y2="82.50" stroke="#2a2a2a" stroke-width="1.0"/>
<line x1="706.60" y1="82.50" x2="708.40" y2="82.50" stroke="#2a2a2a" stroke-width="1.0"/>
<line x1="406.80" y1="72.85" x2="408.60" y2="72.85" stroke="#2a2a2a" stroke-width="1.0"/>
<line x1="706.60" y1="72.85" x2="708.40" y2="72.85" stroke="#2a2a2a" stroke-width="1.0"/>
<line x1="406.80" y1="63.20" x2="408.60" y2="63.20" stroke="#2a2a2a" stroke-width="1.0"/>
<line x1="706.60" y1="63.20" x2="708.40" y2="63.20" stroke="#2a2a2a" stroke-width="1.0"/>
<line x1="405.00" y1="53.55" x2="408.60" y2="53.55" stroke="#2a2a2a" stroke-width="1.0"/>
<line x1="704.80" y1="53.55" x2="708.40" y2="53.55" stroke="#2a2a2a" stroke-width="1.0"/>
<line x1="406.80" y1="43.90" x2="408.60" y2="43.90" stroke="#2a2a2a" stroke-width="1.0"/>
<line x1="706.60" y1="43.90" x2="708.40" y2="43.90" stroke="#2a2a2a" stroke-width="1.0"/>
<line x1="406.80" y1="34.25" x2="408.60" y2="34.25" stroke="#2a2a2a" stroke-width="1.0"/>
<line x1="706.60" y1="34.25" x2="708.40" y2="34.25" stroke="#2a2a2a" stroke-width="1.0"/>
<line x1="406.80" y1="24.60" x2="408.60" y2="24.60" stroke="#2a2a2a" stroke-width="1.0"/>
<line x1="706.60" y1="24.60" x2="708.40" y2="24.60" stroke="#2a2a2a" stroke-width="1.0"/>
<line x1="406.80" y1="14.95" x2="408.60" y2="14.95" stroke="#2a2a2a" stroke-width="1.0"/>
<line x1="706.60" y1="14.95" x2="708.40" y2="14.95" stroke="#2a2a2a" stroke-width="1.0"/>
<line x1="405.00" y1="5.30" x2="408.60" y2="5.30" stroke="#2a2a2a" stroke-width="1.0"/>
<line x1="704.80" y1="5.30" x2="708.40" y2="5.30" stroke="#2a2a2a" stroke-width="1.0"/>
<text x="408.60" y="212.90" font-size="10.3" text-anchor="middle" >−0.5</text>
<text x="483.55" y="212.90" font-size="10.3" text-anchor="middle" >0</text>
<text x="558.50" y="212.90" font-size="10.3" text-anchor="middle" >0.5</text>
<text x="633.45" y="212.90" font-size="10.3" text-anchor="middle" >1.0</text>
<text x="708.40" y="212.90" font-size="10.3" text-anchor="middle" >1.5</text>
<text x="402.00" y="202.20" font-size="10.3" text-anchor="end" >0.5</text>
<text x="402.00" y="153.95" font-size="10.3" text-anchor="end" >1.0</text>
<text x="402.00" y="105.70" font-size="10.3" text-anchor="end" >1.5</text>
<text x="402.00" y="57.45" font-size="10.3" text-anchor="end" >2.0</text>
<text x="402.00" y="9.20" font-size="10.3" text-anchor="end" >2.5</text>
<line x1="408.60" y1="20.00" x2="708.40" y2="150.50" stroke="#111" stroke-width="1.3"/>
<line x1="510.60" y1="55.60" x2="518.80" y2="55.60" stroke="#444" stroke-width="1.0"/>
<line x1="510.60" y1="54.00" x2="510.60" y2="57.20" stroke="#444" stroke-width="1.0"/>
<line x1="518.80" y1="54.00" x2="518.80" y2="57.20" stroke="#444" stroke-width="1.0"/>
<line x1="514.30" y1="50.60" x2="514.30" y2="60.10" stroke="#444" stroke-width="1.0"/>
<line x1="512.70" y1="50.60" x2="515.90" y2="50.60" stroke="#444" stroke-width="1.0"/>
<line x1="512.70" y1="60.10" x2="515.90" y2="60.10" stroke="#444" stroke-width="1.0"/>
<line x1="495.00" y1="56.60" x2="541.90" y2="56.60" stroke="#444" stroke-width="1.0"/>
<line x1="495.00" y1="55.00" x2="495.00" y2="58.20" stroke="#444" stroke-width="1.0"/>
<line x1="541.90" y1="55.00" x2="541.90" y2="58.20" stroke="#444" stroke-width="1.0"/>
<line x1="522.60" y1="52.50" x2="522.60" y2="60.70" stroke="#444" stroke-width="1.0"/>
<line x1="521.00" y1="52.50" x2="524.20" y2="52.50" stroke="#444" stroke-width="1.0"/>
<line x1="521.00" y1="60.70" x2="524.20" y2="60.70" stroke="#444" stroke-width="1.0"/>
<line x1="559.60" y1="75.60" x2="577.30" y2="75.60" stroke="#444" stroke-width="1.0"/>
<line x1="559.60" y1="74.00" x2="559.60" y2="77.20" stroke="#444" stroke-width="1.0"/>
<line x1="577.30" y1="74.00" x2="577.30" y2="77.20" stroke="#444" stroke-width="1.0"/>
<line x1="551.00" y1="82.20" x2="561.00" y2="82.20" stroke="#444" stroke-width="1.0"/>
<line x1="551.00" y1="80.60" x2="551.00" y2="83.80" stroke="#444" stroke-width="1.0"/>
<line x1="561.00" y1="80.60" x2="561.00" y2="83.80" stroke="#444" stroke-width="1.0"/>
<line x1="556.20" y1="79.20" x2="556.20" y2="85.20" stroke="#444" stroke-width="1.0"/>
<line x1="554.60" y1="79.20" x2="557.80" y2="79.20" stroke="#444" stroke-width="1.0"/>
<line x1="554.60" y1="85.20" x2="557.80" y2="85.20" stroke="#444" stroke-width="1.0"/>
<line x1="561.60" y1="83.80" x2="570.50" y2="83.80" stroke="#444" stroke-width="1.0"/>
<line x1="561.60" y1="82.20" x2="561.60" y2="85.40" stroke="#444" stroke-width="1.0"/>
<line x1="570.50" y1="82.20" x2="570.50" y2="85.40" stroke="#444" stroke-width="1.0"/>
<line x1="566.00" y1="78.80" x2="566.00" y2="86.90" stroke="#444" stroke-width="1.0"/>
<line x1="564.40" y1="78.80" x2="567.60" y2="78.80" stroke="#444" stroke-width="1.0"/>
<line x1="564.40" y1="86.90" x2="567.60" y2="86.90" stroke="#444" stroke-width="1.0"/>
<line x1="545.60" y1="87.30" x2="560.30" y2="87.30" stroke="#444" stroke-width="1.0"/>
<line x1="545.60" y1="85.70" x2="545.60" y2="88.90" stroke="#444" stroke-width="1.0"/>
<line x1="560.30" y1="85.70" x2="560.30" y2="88.90" stroke="#444" stroke-width="1.0"/>
<line x1="585.70" y1="96.30" x2="624.20" y2="96.30" stroke="#444" stroke-width="1.0"/>
<line x1="585.70" y1="94.70" x2="585.70" y2="97.90" stroke="#444" stroke-width="1.0"/>
<line x1="624.20" y1="94.70" x2="624.20" y2="97.90" stroke="#444" stroke-width="1.0"/>
<line x1="608.00" y1="92.50" x2="608.00" y2="100.10" stroke="#444" stroke-width="1.0"/>
<line x1="606.40" y1="92.50" x2="609.60" y2="92.50" stroke="#444" stroke-width="1.0"/>
<line x1="606.40" y1="100.10" x2="609.60" y2="100.10" stroke="#444" stroke-width="1.0"/>
<line x1="554.30" y1="116.00" x2="570.50" y2="116.00" stroke="#444" stroke-width="1.0"/>
<line x1="554.30" y1="114.40" x2="554.30" y2="117.60" stroke="#444" stroke-width="1.0"/>
<line x1="570.50" y1="114.40" x2="570.50" y2="117.60" stroke="#444" stroke-width="1.0"/>
<line x1="594.90" y1="116.00" x2="616.60" y2="116.00" stroke="#444" stroke-width="1.0"/>
<line x1="594.90" y1="114.40" x2="594.90" y2="117.60" stroke="#444" stroke-width="1.0"/>
<line x1="616.60" y1="114.40" x2="616.60" y2="117.60" stroke="#444" stroke-width="1.0"/>
<line x1="606.30" y1="114.00" x2="606.30" y2="118.50" stroke="#444" stroke-width="1.0"/>
<line x1="604.70" y1="114.00" x2="607.90" y2="114.00" stroke="#444" stroke-width="1.0"/>
<line x1="604.70" y1="118.50" x2="607.90" y2="118.50" stroke="#444" stroke-width="1.0"/>
<line x1="593.70" y1="142.60" x2="608.60" y2="142.60" stroke="#444" stroke-width="1.0"/>
<line x1="593.70" y1="141.00" x2="593.70" y2="144.20" stroke="#444" stroke-width="1.0"/>
<line x1="608.60" y1="141.00" x2="608.60" y2="144.20" stroke="#444" stroke-width="1.0"/>
<line x1="601.30" y1="141.00" x2="601.30" y2="144.20" stroke="#444" stroke-width="1.0"/>
<line x1="599.70" y1="141.00" x2="602.90" y2="141.00" stroke="#444" stroke-width="1.0"/>
<line x1="599.70" y1="144.20" x2="602.90" y2="144.20" stroke="#444" stroke-width="1.0"/>
<line x1="650.50" y1="148.00" x2="675.20" y2="148.00" stroke="#444" stroke-width="1.0"/>
<line x1="650.50" y1="146.40" x2="650.50" y2="149.60" stroke="#444" stroke-width="1.0"/>
<line x1="675.20" y1="146.40" x2="675.20" y2="149.60" stroke="#444" stroke-width="1.0"/>
<circle cx="514.30" cy="55.60" r="1.9" fill="#000"/>
<circle cx="522.60" cy="56.60" r="1.9" fill="#000"/>
<circle cx="568.80" cy="75.60" r="1.9" fill="#000"/>
<circle cx="556.20" cy="82.20" r="1.9" fill="#000"/>
<circle cx="566.00" cy="83.80" r="1.9" fill="#000"/>
<circle cx="553.50" cy="87.30" r="1.9" fill="#000"/>
<circle cx="659.60" cy="88.70" r="1.9" fill="#000"/>
<circle cx="608.00" cy="96.30" r="1.9" fill="#000"/>
<circle cx="562.50" cy="116.00" r="1.9" fill="#000"/>
<circle cx="606.30" cy="116.00" r="1.9" fill="#000"/>
<circle cx="601.30" cy="142.60" r="1.9" fill="#000"/>
<circle cx="663.80" cy="148.00" r="1.9" fill="#000"/>
<circle cx="659.6" cy="88.8" r="2.7" fill="#666"/><circle cx="659.6" cy="88.8" r="1.9" fill="#000"/>
<text x="697.40" y="22.60" font-size="10.5" text-anchor="end" >Early Type</text>
<rect x="41.40" y="242.50" width="299.80" height="192.90" fill="none" stroke="#2a2a2a" stroke-width="1.2"/>
<line x1="41.40" y1="435.40" x2="41.40" y2="439.00" stroke="#2a2a2a" stroke-width="1.0"/>
<line x1="41.40" y1="242.50" x2="41.40" y2="246.10" stroke="#2a2a2a" stroke-width="1.0"/>
<line x1="59.04" y1="435.40" x2="59.04" y2="437.20" stroke="#2a2a2a" stroke-width="1.0"/>
<line x1="59.04" y1="242.50" x2="59.04" y2="244.30" stroke="#2a2a2a" stroke-width="1.0"/>
<line x1="76.67" y1="435.40" x2="76.67" y2="437.20" stroke="#2a2a2a" stroke-width="1.0"/>
<line x1="76.67" y1="242.50" x2="76.67" y2="244.30" stroke="#2a2a2a" stroke-width="1.0"/>
<line x1="94.31" y1="435.40" x2="94.31" y2="437.20" stroke="#2a2a2a" stroke-width="1.0"/>
<line x1="94.31" y1="242.50" x2="94.31" y2="244.30" stroke="#2a2a2a" stroke-width="1.0"/>
<line x1="111.94" y1="435.40" x2="111.94" y2="437.20" stroke="#2a2a2a" stroke-width="1.0"/>
<line x1="111.94" y1="242.50" x2="111.94" y2="244.30" stroke="#2a2a2a" stroke-width="1.0"/>
<line x1="129.58" y1="435.40" x2="129.58" y2="439.00" stroke="#2a2a2a" stroke-width="1.0"/>
<line x1="129.58" y1="242.50" x2="129.58" y2="246.10" stroke="#2a2a2a" stroke-width="1.0"/>
<line x1="147.21" y1="435.40" x2="147.21" y2="437.20" stroke="#2a2a2a" stroke-width="1.0"/>
<line x1="147.21" y1="242.50" x2="147.21" y2="244.30" stroke="#2a2a2a" stroke-width="1.0"/>
<line x1="164.85" y1="435.40" x2="164.85" y2="437.20" stroke="#2a2a2a" stroke-width="1.0"/>
<line x1="164.85" y1="242.50" x2="164.85" y2="244.30" stroke="#2a2a2a" stroke-width="1.0"/>
<line x1="182.48" y1="435.40" x2="182.48" y2="437.20" stroke="#2a2a2a" stroke-width="1.0"/>
<line x1="182.48" y1="242.50" x2="182.48" y2="244.30" stroke="#2a2a2a" stroke-width="1.0"/>
<line x1="200.12" y1="435.40" x2="200.12" y2="437.20" stroke="#2a2a2a" stroke-width="1.0"/>
<line x1="200.12" y1="242.50" x2="200.12" y2="244.30" stroke="#2a2a2a" stroke-width="1.0"/>
<line x1="217.75" y1="435.40" x2="217.75" y2="439.00" stroke="#2a2a2a" stroke-width="1.0"/>
<line x1="217.75" y1="242.50" x2="217.75" y2="246.10" stroke="#2a2a2a" stroke-width="1.0"/>
<line x1="235.39" y1="435.40" x2="235.39" y2="437.20" stroke="#2a2a2a" stroke-width="1.0"/>
<line x1="235.39" y1="242.50" x2="235.39" y2="244.30" stroke="#2a2a2a" stroke-width="1.0"/>
<line x1="253.02" y1="435.40" x2="253.02" y2="437.20" stroke="#2a2a2a" stroke-width="1.0"/>
<line x1="253.02" y1="242.50" x2="253.02" y2="244.30" stroke="#2a2a2a" stroke-width="1.0"/>
<line x1="270.66" y1="435.40" x2="270.66" y2="437.20" stroke="#2a2a2a" stroke-width="1.0"/>
<line x1="270.66" y1="242.50" x2="270.66" y2="244.30" stroke="#2a2a2a" stroke-width="1.0"/>
<line x1="288.29" y1="435.40" x2="288.29" y2="437.20" stroke="#2a2a2a" stroke-width="1.0"/>
<line x1="288.29" y1="242.50" x2="288.29" y2="244.30" stroke="#2a2a2a" stroke-width="1.0"/>
<line x1="305.93" y1="435.40" x2="305.93" y2="439.00" stroke="#2a2a2a" stroke-width="1.0"/>
<line x1="305.93" y1="242.50" x2="305.93" y2="246.10" stroke="#2a2a2a" stroke-width="1.0"/>
<line x1="323.56" y1="435.40" x2="323.56" y2="437.20" stroke="#2a2a2a" stroke-width="1.0"/>
<line x1="323.56" y1="242.50" x2="323.56" y2="244.30" stroke="#2a2a2a" stroke-width="1.0"/>
<line x1="341.20" y1="435.40" x2="341.20" y2="437.20" stroke="#2a2a2a" stroke-width="1.0"/>
<line x1="341.20" y1="242.50" x2="341.20" y2="244.30" stroke="#2a2a2a" stroke-width="1.0"/>
<line x1="37.80" y1="435.40" x2="41.40" y2="435.40" stroke="#2a2a2a" stroke-width="1.0"/>
<line x1="337.60" y1="435.40" x2="341.20" y2="435.40" stroke="#2a2a2a" stroke-width="1.0"/>
<line x1="39.60" y1="425.75" x2="41.40" y2="425.75" stroke="#2a2a2a" stroke-width="1.0"/>
<line x1="339.40" y1="425.75" x2="341.20" y2="425.75" stroke="#2a2a2a" stroke-width="1.0"/>
<line x1="39.60" y1="416.11" x2="41.40" y2="416.11" stroke="#2a2a2a" stroke-width="1.0"/>
<line x1="339.40" y1="416.11" x2="341.20" y2="416.11" stroke="#2a2a2a" stroke-width="1.0"/>
<line x1="39.60" y1="406.46" x2="41.40" y2="406.46" stroke="#2a2a2a" stroke-width="1.0"/>
<line x1="339.40" y1="406.46" x2="341.20" y2="406.46" stroke="#2a2a2a" stroke-width="1.0"/>
<line x1="39.60" y1="396.82" x2="41.40" y2="396.82" stroke="#2a2a2a" stroke-width="1.0"/>
<line x1="339.40" y1="396.82" x2="341.20" y2="396.82" stroke="#2a2a2a" stroke-width="1.0"/>
<line x1="37.80" y1="387.17" x2="41.40" y2="387.17" stroke="#2a2a2a" stroke-width="1.0"/>
<line x1="337.60" y1="387.17" x2="341.20" y2="387.17" stroke="#2a2a2a" stroke-width="1.0"/>
<line x1="39.60" y1="377.53" x2="41.40" y2="377.53" stroke="#2a2a2a" stroke-width="1.0"/>
<line x1="339.40" y1="377.53" x2="341.20" y2="377.53" stroke="#2a2a2a" stroke-width="1.0"/>
<line x1="39.60" y1="367.88" x2="41.40" y2="367.88" stroke="#2a2a2a" stroke-width="1.0"/>
<line x1="339.40" y1="367.88" x2="341.20" y2="367.88" stroke="#2a2a2a" stroke-width="1.0"/>
<line x1="39.60" y1="358.24" x2="41.40" y2="358.24" stroke="#2a2a2a" stroke-width="1.0"/>
<line x1="339.40" y1="358.24" x2="341.20" y2="358.24" stroke="#2a2a2a" stroke-width="1.0"/>
<line x1="39.60" y1="348.60" x2="41.40" y2="348.60" stroke="#2a2a2a" stroke-width="1.0"/>
<line x1="339.40" y1="348.60" x2="341.20" y2="348.60" stroke="#2a2a2a" stroke-width="1.0"/>
<line x1="37.80" y1="338.95" x2="41.40" y2="338.95" stroke="#2a2a2a" stroke-width="1.0"/>
<line x1="337.60" y1="338.95" x2="341.20" y2="338.95" stroke="#2a2a2a" stroke-width="1.0"/>
<line x1="39.60" y1="329.30" x2="41.40" y2="329.30" stroke="#2a2a2a" stroke-width="1.0"/>
<line x1="339.40" y1="329.30" x2="341.20" y2="329.30" stroke="#2a2a2a" stroke-width="1.0"/>
<line x1="39.60" y1="319.66" x2="41.40" y2="319.66" stroke="#2a2a2a" stroke-width="1.0"/>
<line x1="339.40" y1="319.66" x2="341.20" y2="319.66" stroke="#2a2a2a" stroke-width="1.0"/>
<line x1="39.60" y1="310.01" x2="41.40" y2="310.01" stroke="#2a2a2a" stroke-width="1.0"/>
<line x1="339.40" y1="310.01" x2="341.20" y2="310.01" stroke="#2a2a2a" stroke-width="1.0"/>
<line x1="39.60" y1="300.37" x2="41.40" y2="300.37" stroke="#2a2a2a" stroke-width="1.0"/>
<line x1="339.40" y1="300.37" x2="341.20" y2="300.37" stroke="#2a2a2a" stroke-width="1.0"/>
<line x1="37.80" y1="290.73" x2="41.40" y2="290.73" stroke="#2a2a2a" stroke-width="1.0"/>
<line x1="337.60" y1="290.73" x2="341.20" y2="290.73" stroke="#2a2a2a" stroke-width="1.0"/>
<line x1="39.60" y1="281.08" x2="41.40" y2="281.08" stroke="#2a2a2a" stroke-width="1.0"/>
<line x1="339.40" y1="281.08" x2="341.20" y2="281.08" stroke="#2a2a2a" stroke-width="1.0"/>
<line x1="39.60" y1="271.43" x2="41.40" y2="271.43" stroke="#2a2a2a" stroke-width="1.0"/>
<line x1="339.40" y1="271.43" x2="341.20" y2="271.43" stroke="#2a2a2a" stroke-width="1.0"/>
<line x1="39.60" y1="261.79" x2="41.40" y2="261.79" stroke="#2a2a2a" stroke-width="1.0"/>
<line x1="339.40" y1="261.79" x2="341.20" y2="261.79" stroke="#2a2a2a" stroke-width="1.0"/>
<line x1="39.60" y1="252.14" x2="41.40" y2="252.14" stroke="#2a2a2a" stroke-width="1.0"/>
<line x1="339.40" y1="252.14" x2="341.20" y2="252.14" stroke="#2a2a2a" stroke-width="1.0"/>
<line x1="37.80" y1="242.50" x2="41.40" y2="242.50" stroke="#2a2a2a" stroke-width="1.0"/>
<line x1="337.60" y1="242.50" x2="341.20" y2="242.50" stroke="#2a2a2a" stroke-width="1.0"/>
<text x="41.40" y="450.20" font-size="10.3" text-anchor="middle" >−0.5</text>
<text x="129.58" y="450.20" font-size="10.3" text-anchor="middle" >0</text>
<text x="217.75" y="450.20" font-size="10.3" text-anchor="middle" >0.5</text>
<text x="305.93" y="450.20" font-size="10.3" text-anchor="middle" >1.0</text>
<text x="35.60" y="439.30" font-size="10.3" text-anchor="end" >0.5</text>
<text x="35.60" y="391.07" font-size="10.3" text-anchor="end" >1.0</text>
<text x="35.60" y="342.85" font-size="10.3" text-anchor="end" >1.5</text>
<text x="35.60" y="294.62" font-size="10.3" text-anchor="end" >2.0</text>
<text x="35.60" y="246.40" font-size="10.3" text-anchor="end" >2.5</text>
<line x1="41.40" y1="287.10" x2="341.20" y2="370.40" stroke="#111" stroke-width="1.3"/>
<line x1="41.40" y1="287.40" x2="110.50" y2="287.40" stroke="#555" stroke-width="1.0"/>
<line x1="41.40" y1="285.80" x2="41.40" y2="289.00" stroke="#555" stroke-width="1.0"/>
<line x1="110.50" y1="285.80" x2="110.50" y2="289.00" stroke="#555" stroke-width="1.0"/>
<line x1="106.00" y1="304.70" x2="131.20" y2="304.70" stroke="#555" stroke-width="1.0"/>
<line x1="106.00" y1="303.10" x2="106.00" y2="306.30" stroke="#555" stroke-width="1.0"/>
<line x1="131.20" y1="303.10" x2="131.20" y2="306.30" stroke="#555" stroke-width="1.0"/>
<line x1="129.70" y1="297.50" x2="142.40" y2="297.50" stroke="#555" stroke-width="1.0"/>
<line x1="129.70" y1="295.90" x2="129.70" y2="299.10" stroke="#555" stroke-width="1.0"/>
<line x1="142.40" y1="295.90" x2="142.40" y2="299.10" stroke="#555" stroke-width="1.0"/>
<line x1="136.10" y1="294.50" x2="136.10" y2="300.20" stroke="#555" stroke-width="1.0"/>
<line x1="134.50" y1="294.50" x2="137.70" y2="294.50" stroke="#555" stroke-width="1.0"/>
<line x1="134.50" y1="300.20" x2="137.70" y2="300.20" stroke="#555" stroke-width="1.0"/>
<line x1="153.70" y1="284.30" x2="190.50" y2="284.30" stroke="#555" stroke-width="1.0"/>
<line x1="153.70" y1="282.70" x2="153.70" y2="285.90" stroke="#555" stroke-width="1.0"/>
<line x1="190.50" y1="282.70" x2="190.50" y2="285.90" stroke="#555" stroke-width="1.0"/>
<line x1="174.10" y1="275.70" x2="174.10" y2="291.80" stroke="#555" stroke-width="1.0"/>
<line x1="172.50" y1="275.70" x2="175.70" y2="275.70" stroke="#555" stroke-width="1.0"/>
<line x1="172.50" y1="291.80" x2="175.70" y2="291.80" stroke="#555" stroke-width="1.0"/>
<line x1="126.50" y1="303.30" x2="194.60" y2="303.30" stroke="#555" stroke-width="1.0"/>
<line x1="126.50" y1="301.70" x2="126.50" y2="304.90" stroke="#555" stroke-width="1.0"/>
<line x1="194.60" y1="301.70" x2="194.60" y2="304.90" stroke="#555" stroke-width="1.0"/>
<line x1="162.30" y1="288.40" x2="162.30" y2="314.20" stroke="#555" stroke-width="1.0"/>
<line x1="160.70" y1="288.40" x2="163.90" y2="288.40" stroke="#555" stroke-width="1.0"/>
<line x1="160.70" y1="314.20" x2="163.90" y2="314.20" stroke="#555" stroke-width="1.0"/>
<line x1="165.50" y1="302.70" x2="169.70" y2="302.70" stroke="#555" stroke-width="1.0"/>
<line x1="165.50" y1="301.10" x2="165.50" y2="304.30" stroke="#555" stroke-width="1.0"/>
<line x1="169.70" y1="301.10" x2="169.70" y2="304.30" stroke="#555" stroke-width="1.0"/>
<line x1="167.60" y1="300.20" x2="167.60" y2="305.10" stroke="#555" stroke-width="1.0"/>
<line x1="166.00" y1="300.20" x2="169.20" y2="300.20" stroke="#555" stroke-width="1.0"/>
<line x1="166.00" y1="305.10" x2="169.20" y2="305.10" stroke="#555" stroke-width="1.0"/>
<line x1="152.40" y1="309.70" x2="162.90" y2="309.70" stroke="#555" stroke-width="1.0"/>
<line x1="152.40" y1="308.10" x2="152.40" y2="311.30" stroke="#555" stroke-width="1.0"/>
<line x1="162.90" y1="308.10" x2="162.90" y2="311.30" stroke="#555" stroke-width="1.0"/>
<line x1="157.80" y1="305.40" x2="157.80" y2="313.30" stroke="#555" stroke-width="1.0"/>
<line x1="156.20" y1="305.40" x2="159.40" y2="305.40" stroke="#555" stroke-width="1.0"/>
<line x1="156.20" y1="313.30" x2="159.40" y2="313.30" stroke="#555" stroke-width="1.0"/>
<line x1="151.70" y1="318.70" x2="165.30" y2="318.70" stroke="#555" stroke-width="1.0"/>
<line x1="151.70" y1="317.10" x2="151.70" y2="320.30" stroke="#555" stroke-width="1.0"/>
<line x1="165.30" y1="317.10" x2="165.30" y2="320.30" stroke="#555" stroke-width="1.0"/>
<line x1="175.50" y1="318.30" x2="195.20" y2="318.30" stroke="#555" stroke-width="1.0"/>
<line x1="175.50" y1="316.70" x2="175.50" y2="319.90" stroke="#555" stroke-width="1.0"/>
<line x1="195.20" y1="316.70" x2="195.20" y2="319.90" stroke="#555" stroke-width="1.0"/>
<line x1="187.80" y1="314.20" x2="196.60" y2="314.20" stroke="#555" stroke-width="1.0"/>
<line x1="187.80" y1="312.60" x2="187.80" y2="315.80" stroke="#555" stroke-width="1.0"/>
<line x1="196.60" y1="312.60" x2="196.60" y2="315.80" stroke="#555" stroke-width="1.0"/>
<line x1="192.10" y1="307.00" x2="192.10" y2="320.30" stroke="#555" stroke-width="1.0"/>
<line x1="190.50" y1="307.00" x2="193.70" y2="307.00" stroke="#555" stroke-width="1.0"/>
<line x1="190.50" y1="320.30" x2="193.70" y2="320.30" stroke="#555" stroke-width="1.0"/>
<line x1="164.00" y1="323.10" x2="181.60" y2="323.10" stroke="#555" stroke-width="1.0"/>
<line x1="164.00" y1="321.50" x2="164.00" y2="324.70" stroke="#555" stroke-width="1.0"/>
<line x1="181.60" y1="321.50" x2="181.60" y2="324.70" stroke="#555" stroke-width="1.0"/>
<line x1="176.00" y1="322.80" x2="182.00" y2="322.80" stroke="#555" stroke-width="1.0"/>
<line x1="176.00" y1="321.20" x2="176.00" y2="324.40" stroke="#555" stroke-width="1.0"/>
<line x1="182.00" y1="321.20" x2="182.00" y2="324.40" stroke="#555" stroke-width="1.0"/>
<line x1="178.90" y1="317.00" x2="178.90" y2="328.50" stroke="#555" stroke-width="1.0"/>
<line x1="177.30" y1="317.00" x2="180.50" y2="317.00" stroke="#555" stroke-width="1.0"/>
<line x1="177.30" y1="328.50" x2="180.50" y2="328.50" stroke="#555" stroke-width="1.0"/>
<line x1="139.50" y1="330.20" x2="160.00" y2="330.20" stroke="#555" stroke-width="1.0"/>
<line x1="139.50" y1="328.60" x2="139.50" y2="331.80" stroke="#555" stroke-width="1.0"/>
<line x1="160.00" y1="328.60" x2="160.00" y2="331.80" stroke="#555" stroke-width="1.0"/>
<line x1="151.70" y1="329.70" x2="166.00" y2="329.70" stroke="#555" stroke-width="1.0"/>
<line x1="151.70" y1="328.10" x2="151.70" y2="331.30" stroke="#555" stroke-width="1.0"/>
<line x1="166.00" y1="328.10" x2="166.00" y2="331.30" stroke="#555" stroke-width="1.0"/>
<line x1="158.20" y1="322.50" x2="158.20" y2="339.80" stroke="#555" stroke-width="1.0"/>
<line x1="156.60" y1="322.50" x2="159.80" y2="322.50" stroke="#555" stroke-width="1.0"/>
<line x1="156.60" y1="339.80" x2="159.80" y2="339.80" stroke="#555" stroke-width="1.0"/>
<line x1="139.50" y1="332.00" x2="173.50" y2="332.00" stroke="#555" stroke-width="1.0"/>
<line x1="139.50" y1="330.40" x2="139.50" y2="333.60" stroke="#555" stroke-width="1.0"/>
<line x1="173.50" y1="330.40" x2="173.50" y2="333.60" stroke="#555" stroke-width="1.0"/>
<line x1="119.70" y1="346.30" x2="183.00" y2="346.30" stroke="#555" stroke-width="1.0"/>
<line x1="119.70" y1="344.70" x2="119.70" y2="347.90" stroke="#555" stroke-width="1.0"/>
<line x1="183.00" y1="344.70" x2="183.00" y2="347.90" stroke="#555" stroke-width="1.0"/>
<line x1="128.60" y1="358.30" x2="195.20" y2="358.30" stroke="#555" stroke-width="1.0"/>
<line x1="128.60" y1="356.70" x2="128.60" y2="359.90" stroke="#555" stroke-width="1.0"/>
<line x1="195.20" y1="356.70" x2="195.20" y2="359.90" stroke="#555" stroke-width="1.0"/>
<line x1="166.00" y1="357.60" x2="172.50" y2="357.60" stroke="#555" stroke-width="1.0"/>
<line x1="166.00" y1="356.00" x2="166.00" y2="359.20" stroke="#555" stroke-width="1.0"/>
<line x1="172.50" y1="356.00" x2="172.50" y2="359.20" stroke="#555" stroke-width="1.0"/>
<line x1="215.60" y1="320.00" x2="225.50" y2="320.00" stroke="#555" stroke-width="1.0"/>
<line x1="215.60" y1="318.40" x2="215.60" y2="321.60" stroke="#555" stroke-width="1.0"/>
<line x1="225.50" y1="318.40" x2="225.50" y2="321.60" stroke="#555" stroke-width="1.0"/>
<line x1="220.60" y1="317.40" x2="220.60" y2="322.40" stroke="#555" stroke-width="1.0"/>
<line x1="219.00" y1="317.40" x2="222.20" y2="317.40" stroke="#555" stroke-width="1.0"/>
<line x1="219.00" y1="322.40" x2="222.20" y2="322.40" stroke="#555" stroke-width="1.0"/>
<line x1="204.00" y1="324.50" x2="204.00" y2="332.70" stroke="#555" stroke-width="1.0"/>
<line x1="202.40" y1="324.50" x2="205.60" y2="324.50" stroke="#555" stroke-width="1.0"/>
<line x1="202.40" y1="332.70" x2="205.60" y2="332.70" stroke="#555" stroke-width="1.0"/>
<line x1="202.70" y1="327.90" x2="215.60" y2="327.90" stroke="#555" stroke-width="1.0"/>
<line x1="202.70" y1="326.30" x2="202.70" y2="329.50" stroke="#555" stroke-width="1.0"/>
<line x1="215.60" y1="326.30" x2="215.60" y2="329.50" stroke="#555" stroke-width="1.0"/>
<line x1="207.90" y1="321.80" x2="207.90" y2="332.70" stroke="#555" stroke-width="1.0"/>
<line x1="206.30" y1="321.80" x2="209.50" y2="321.80" stroke="#555" stroke-width="1.0"/>
<line x1="206.30" y1="332.70" x2="209.50" y2="332.70" stroke="#555" stroke-width="1.0"/>
<line x1="227.90" y1="312.50" x2="227.90" y2="335.40" stroke="#555" stroke-width="1.0"/>
<line x1="226.30" y1="312.50" x2="229.50" y2="312.50" stroke="#555" stroke-width="1.0"/>
<line x1="226.30" y1="335.40" x2="229.50" y2="335.40" stroke="#555" stroke-width="1.0"/>
<line x1="222.40" y1="327.90" x2="222.40" y2="340.80" stroke="#555" stroke-width="1.0"/>
<line x1="220.80" y1="327.90" x2="224.00" y2="327.90" stroke="#555" stroke-width="1.0"/>
<line x1="220.80" y1="340.80" x2="224.00" y2="340.80" stroke="#555" stroke-width="1.0"/>
<line x1="184.30" y1="334.70" x2="254.00" y2="334.70" stroke="#555" stroke-width="1.0"/>
<line x1="184.30" y1="333.10" x2="184.30" y2="336.30" stroke="#555" stroke-width="1.0"/>
<line x1="254.00" y1="333.10" x2="254.00" y2="336.30" stroke="#555" stroke-width="1.0"/>
<line x1="187.70" y1="336.10" x2="246.90" y2="336.10" stroke="#555" stroke-width="1.0"/>
<line x1="187.70" y1="334.50" x2="187.70" y2="337.70" stroke="#555" stroke-width="1.0"/>
<line x1="246.90" y1="334.50" x2="246.90" y2="337.70" stroke="#555" stroke-width="1.0"/>
<line x1="187.40" y1="338.10" x2="232.00" y2="338.10" stroke="#555" stroke-width="1.0"/>
<line x1="187.40" y1="336.50" x2="187.40" y2="339.70" stroke="#555" stroke-width="1.0"/>
<line x1="232.00" y1="336.50" x2="232.00" y2="339.70" stroke="#555" stroke-width="1.0"/>
<line x1="201.30" y1="344.60" x2="222.40" y2="344.60" stroke="#555" stroke-width="1.0"/>
<line x1="201.30" y1="343.00" x2="201.30" y2="346.20" stroke="#555" stroke-width="1.0"/>
<line x1="222.40" y1="343.00" x2="222.40" y2="346.20" stroke="#555" stroke-width="1.0"/>
<line x1="212.60" y1="342.20" x2="212.60" y2="348.30" stroke="#555" stroke-width="1.0"/>
<line x1="211.00" y1="342.20" x2="214.20" y2="342.20" stroke="#555" stroke-width="1.0"/>
<line x1="211.00" y1="348.30" x2="214.20" y2="348.30" stroke="#555" stroke-width="1.0"/>
<line x1="247.80" y1="335.80" x2="255.60" y2="335.80" stroke="#555" stroke-width="1.0"/>
<line x1="247.80" y1="334.20" x2="247.80" y2="337.40" stroke="#555" stroke-width="1.0"/>
<line x1="255.60" y1="334.20" x2="255.60" y2="337.40" stroke="#555" stroke-width="1.0"/>
<line x1="251.30" y1="329.10" x2="251.30" y2="341.20" stroke="#555" stroke-width="1.0"/>
<line x1="249.70" y1="329.10" x2="252.90" y2="329.10" stroke="#555" stroke-width="1.0"/>
<line x1="249.70" y1="341.20" x2="252.90" y2="341.20" stroke="#555" stroke-width="1.0"/>
<line x1="228.30" y1="349.00" x2="261.90" y2="349.00" stroke="#555" stroke-width="1.0"/>
<line x1="228.30" y1="347.40" x2="228.30" y2="350.60" stroke="#555" stroke-width="1.0"/>
<line x1="261.90" y1="347.40" x2="261.90" y2="350.60" stroke="#555" stroke-width="1.0"/>
<line x1="263.10" y1="345.20" x2="283.80" y2="345.20" stroke="#555" stroke-width="1.0"/>
<line x1="263.10" y1="343.60" x2="263.10" y2="346.80" stroke="#555" stroke-width="1.0"/>
<line x1="283.80" y1="343.60" x2="283.80" y2="346.80" stroke="#555" stroke-width="1.0"/>
<line x1="262.00" y1="350.10" x2="285.00" y2="350.10" stroke="#555" stroke-width="1.0"/>
<line x1="262.00" y1="348.50" x2="262.00" y2="351.70" stroke="#555" stroke-width="1.0"/>
<line x1="285.00" y1="348.50" x2="285.00" y2="351.70" stroke="#555" stroke-width="1.0"/>
<line x1="261.80" y1="349.50" x2="293.70" y2="349.50" stroke="#555" stroke-width="1.0"/>
<line x1="261.80" y1="347.90" x2="261.80" y2="351.10" stroke="#555" stroke-width="1.0"/>
<line x1="293.70" y1="347.90" x2="293.70" y2="351.10" stroke="#555" stroke-width="1.0"/>
<line x1="257.70" y1="359.90" x2="266.90" y2="359.90" stroke="#555" stroke-width="1.0"/>
<line x1="257.70" y1="358.30" x2="257.70" y2="361.50" stroke="#555" stroke-width="1.0"/>
<line x1="266.90" y1="358.30" x2="266.90" y2="361.50" stroke="#555" stroke-width="1.0"/>
<line x1="262.40" y1="353.40" x2="262.40" y2="365.60" stroke="#555" stroke-width="1.0"/>
<line x1="260.80" y1="353.40" x2="264.00" y2="353.40" stroke="#555" stroke-width="1.0"/>
<line x1="260.80" y1="365.60" x2="264.00" y2="365.60" stroke="#555" stroke-width="1.0"/>
<line x1="262.90" y1="370.50" x2="279.20" y2="370.50" stroke="#555" stroke-width="1.0"/>
<line x1="262.90" y1="368.90" x2="262.90" y2="372.10" stroke="#555" stroke-width="1.0"/>
<line x1="279.20" y1="368.90" x2="279.20" y2="372.10" stroke="#555" stroke-width="1.0"/>
<line x1="312.50" y1="342.20" x2="322.30" y2="342.20" stroke="#555" stroke-width="1.0"/>
<line x1="312.50" y1="340.60" x2="312.50" y2="343.80" stroke="#555" stroke-width="1.0"/>
<line x1="322.30" y1="340.60" x2="322.30" y2="343.80" stroke="#555" stroke-width="1.0"/>
<line x1="291.70" y1="362.00" x2="332.80" y2="362.00" stroke="#555" stroke-width="1.0"/>
<line x1="291.70" y1="360.40" x2="291.70" y2="363.60" stroke="#555" stroke-width="1.0"/>
<line x1="332.80" y1="360.40" x2="332.80" y2="363.60" stroke="#555" stroke-width="1.0"/>
<line x1="294.40" y1="376.50" x2="304.60" y2="376.50" stroke="#555" stroke-width="1.0"/>
<line x1="294.40" y1="374.90" x2="294.40" y2="378.10" stroke="#555" stroke-width="1.0"/>
<line x1="304.60" y1="374.90" x2="304.60" y2="378.10" stroke="#555" stroke-width="1.0"/>
<circle cx="83.10" cy="287.40" r="1.9" fill="#000"/>
<circle cx="119.60" cy="304.70" r="1.9" fill="#000"/>
<circle cx="136.10" cy="297.50" r="1.9" fill="#000"/>
<circle cx="174.10" cy="284.30" r="1.9" fill="#000"/>
<circle cx="162.30" cy="303.30" r="1.9" fill="#000"/>
<circle cx="167.60" cy="302.70" r="1.9" fill="#000"/>
<circle cx="157.80" cy="309.70" r="1.9" fill="#000"/>
<circle cx="158.50" cy="318.70" r="1.9" fill="#000"/>
<circle cx="184.40" cy="318.30" r="1.9" fill="#000"/>
<circle cx="192.10" cy="314.20" r="1.9" fill="#000"/>
<circle cx="173.50" cy="323.10" r="1.9" fill="#000"/>
<circle cx="178.90" cy="322.80" r="1.9" fill="#000"/>
<circle cx="154.40" cy="330.20" r="1.9" fill="#000"/>
<circle cx="158.20" cy="329.70" r="1.9" fill="#000"/>
<circle cx="158.50" cy="332.00" r="1.9" fill="#000"/>
<circle cx="157.80" cy="346.30" r="1.9" fill="#000"/>
<circle cx="161.90" cy="358.30" r="1.9" fill="#000"/>
<circle cx="169.40" cy="357.60" r="1.9" fill="#000"/>
<circle cx="220.60" cy="320.00" r="1.9" fill="#000"/>
<circle cx="204.00" cy="329.30" r="1.9" fill="#000"/>
<circle cx="207.90" cy="327.90" r="1.9" fill="#000"/>
<circle cx="205.10" cy="332.40" r="1.9" fill="#000"/>
<circle cx="227.90" cy="328.20" r="1.9" fill="#000"/>
<circle cx="222.40" cy="334.00" r="1.9" fill="#000"/>
<circle cx="224.50" cy="334.70" r="1.9" fill="#000"/>
<circle cx="229.20" cy="336.10" r="1.9" fill="#000"/>
<circle cx="211.50" cy="338.10" r="1.9" fill="#000"/>
<circle cx="212.60" cy="344.60" r="1.9" fill="#000"/>
<circle cx="251.30" cy="335.80" r="1.9" fill="#000"/>
<circle cx="246.90" cy="349.00" r="1.9" fill="#000"/>
<circle cx="274.30" cy="345.20" r="1.9" fill="#000"/>
<circle cx="274.00" cy="350.10" r="1.9" fill="#000"/>
<circle cx="284.90" cy="349.50" r="1.9" fill="#000"/>
<circle cx="262.40" cy="359.90" r="1.9" fill="#000"/>
<circle cx="271.30" cy="370.50" r="1.9" fill="#000"/>
<circle cx="317.30" cy="342.20" r="1.9" fill="#000"/>
<circle cx="314.60" cy="362.00" r="1.9" fill="#000"/>
<circle cx="299.60" cy="376.50" r="1.9" fill="#000"/>
<text x="329.50" y="258.80" font-size="10.5" text-anchor="end" >Intermediate Type</text>
<rect x="408.60" y="243.00" width="299.70" height="192.70" fill="none" stroke="#2a2a2a" stroke-width="1.2"/>
<line x1="408.60" y1="435.70" x2="408.60" y2="439.30" stroke="#2a2a2a" stroke-width="1.0"/>
<line x1="408.60" y1="243.00" x2="408.60" y2="246.60" stroke="#2a2a2a" stroke-width="1.0"/>
<line x1="428.58" y1="435.70" x2="428.58" y2="437.50" stroke="#2a2a2a" stroke-width="1.0"/>
<line x1="428.58" y1="243.00" x2="428.58" y2="244.80" stroke="#2a2a2a" stroke-width="1.0"/>
<line x1="448.56" y1="435.70" x2="448.56" y2="437.50" stroke="#2a2a2a" stroke-width="1.0"/>
<line x1="448.56" y1="243.00" x2="448.56" y2="244.80" stroke="#2a2a2a" stroke-width="1.0"/>
<line x1="468.54" y1="435.70" x2="468.54" y2="437.50" stroke="#2a2a2a" stroke-width="1.0"/>
<line x1="468.54" y1="243.00" x2="468.54" y2="244.80" stroke="#2a2a2a" stroke-width="1.0"/>
<line x1="488.52" y1="435.70" x2="488.52" y2="437.50" stroke="#2a2a2a" stroke-width="1.0"/>
<line x1="488.52" y1="243.00" x2="488.52" y2="244.80" stroke="#2a2a2a" stroke-width="1.0"/>
<line x1="508.50" y1="435.70" x2="508.50" y2="439.30" stroke="#2a2a2a" stroke-width="1.0"/>
<line x1="508.50" y1="243.00" x2="508.50" y2="246.60" stroke="#2a2a2a" stroke-width="1.0"/>
<line x1="528.48" y1="435.70" x2="528.48" y2="437.50" stroke="#2a2a2a" stroke-width="1.0"/>
<line x1="528.48" y1="243.00" x2="528.48" y2="244.80" stroke="#2a2a2a" stroke-width="1.0"/>
<line x1="548.46" y1="435.70" x2="548.46" y2="437.50" stroke="#2a2a2a" stroke-width="1.0"/>
<line x1="548.46" y1="243.00" x2="548.46" y2="244.80" stroke="#2a2a2a" stroke-width="1.0"/>
<line x1="568.44" y1="435.70" x2="568.44" y2="437.50" stroke="#2a2a2a" stroke-width="1.0"/>
<line x1="568.44" y1="243.00" x2="568.44" y2="244.80" stroke="#2a2a2a" stroke-width="1.0"/>
<line x1="588.42" y1="435.70" x2="588.42" y2="437.50" stroke="#2a2a2a" stroke-width="1.0"/>
<line x1="588.42" y1="243.00" x2="588.42" y2="244.80" stroke="#2a2a2a" stroke-width="1.0"/>
<line x1="608.40" y1="435.70" x2="608.40" y2="439.30" stroke="#2a2a2a" stroke-width="1.0"/>
<line x1="608.40" y1="243.00" x2="608.40" y2="246.60" stroke="#2a2a2a" stroke-width="1.0"/>
<line x1="628.38" y1="435.70" x2="628.38" y2="437.50" stroke="#2a2a2a" stroke-width="1.0"/>
<line x1="628.38" y1="243.00" x2="628.38" y2="244.80" stroke="#2a2a2a" stroke-width="1.0"/>
<line x1="648.36" y1="435.70" x2="648.36" y2="437.50" stroke="#2a2a2a" stroke-width="1.0"/>
<line x1="648.36" y1="243.00" x2="648.36" y2="244.80" stroke="#2a2a2a" stroke-width="1.0"/>
<line x1="668.34" y1="435.70" x2="668.34" y2="437.50" stroke="#2a2a2a" stroke-width="1.0"/>
<line x1="668.34" y1="243.00" x2="668.34" y2="244.80" stroke="#2a2a2a" stroke-width="1.0"/>
<line x1="688.32" y1="435.70" x2="688.32" y2="437.50" stroke="#2a2a2a" stroke-width="1.0"/>
<line x1="688.32" y1="243.00" x2="688.32" y2="244.80" stroke="#2a2a2a" stroke-width="1.0"/>
<line x1="708.30" y1="435.70" x2="708.30" y2="439.30" stroke="#2a2a2a" stroke-width="1.0"/>
<line x1="708.30" y1="243.00" x2="708.30" y2="246.60" stroke="#2a2a2a" stroke-width="1.0"/>
<line x1="405.00" y1="435.70" x2="408.60" y2="435.70" stroke="#2a2a2a" stroke-width="1.0"/>
<line x1="704.70" y1="435.70" x2="708.30" y2="435.70" stroke="#2a2a2a" stroke-width="1.0"/>
<line x1="406.80" y1="423.66" x2="408.60" y2="423.66" stroke="#2a2a2a" stroke-width="1.0"/>
<line x1="706.50" y1="423.66" x2="708.30" y2="423.66" stroke="#2a2a2a" stroke-width="1.0"/>
<line x1="406.80" y1="411.61" x2="408.60" y2="411.61" stroke="#2a2a2a" stroke-width="1.0"/>
<line x1="706.50" y1="411.61" x2="708.30" y2="411.61" stroke="#2a2a2a" stroke-width="1.0"/>
<line x1="406.80" y1="399.57" x2="408.60" y2="399.57" stroke="#2a2a2a" stroke-width="1.0"/>
<line x1="706.50" y1="399.57" x2="708.30" y2="399.57" stroke="#2a2a2a" stroke-width="1.0"/>
<line x1="406.80" y1="387.52" x2="408.60" y2="387.52" stroke="#2a2a2a" stroke-width="1.0"/>
<line x1="706.50" y1="387.52" x2="708.30" y2="387.52" stroke="#2a2a2a" stroke-width="1.0"/>
<line x1="405.00" y1="375.48" x2="408.60" y2="375.48" stroke="#2a2a2a" stroke-width="1.0"/>
<line x1="704.70" y1="375.48" x2="708.30" y2="375.48" stroke="#2a2a2a" stroke-width="1.0"/>
<line x1="406.80" y1="363.44" x2="408.60" y2="363.44" stroke="#2a2a2a" stroke-width="1.0"/>
<line x1="706.50" y1="363.44" x2="708.30" y2="363.44" stroke="#2a2a2a" stroke-width="1.0"/>
<line x1="406.80" y1="351.39" x2="408.60" y2="351.39" stroke="#2a2a2a" stroke-width="1.0"/>
<line x1="706.50" y1="351.39" x2="708.30" y2="351.39" stroke="#2a2a2a" stroke-width="1.0"/>
<line x1="406.80" y1="339.35" x2="408.60" y2="339.35" stroke="#2a2a2a" stroke-width="1.0"/>
<line x1="706.50" y1="339.35" x2="708.30" y2="339.35" stroke="#2a2a2a" stroke-width="1.0"/>
<line x1="406.80" y1="327.31" x2="408.60" y2="327.31" stroke="#2a2a2a" stroke-width="1.0"/>
<line x1="706.50" y1="327.31" x2="708.30" y2="327.31" stroke="#2a2a2a" stroke-width="1.0"/>
<line x1="405.00" y1="315.26" x2="408.60" y2="315.26" stroke="#2a2a2a" stroke-width="1.0"/>
<line x1="704.70" y1="315.26" x2="708.30" y2="315.26" stroke="#2a2a2a" stroke-width="1.0"/>
<line x1="406.80" y1="303.22" x2="408.60" y2="303.22" stroke="#2a2a2a" stroke-width="1.0"/>
<line x1="706.50" y1="303.22" x2="708.30" y2="303.22" stroke="#2a2a2a" stroke-width="1.0"/>
<line x1="406.80" y1="291.17" x2="408.60" y2="291.17" stroke="#2a2a2a" stroke-width="1.0"/>
<line x1="706.50" y1="291.17" x2="708.30" y2="291.17" stroke="#2a2a2a" stroke-width="1.0"/>
<line x1="406.80" y1="279.13" x2="408.60" y2="279.13" stroke="#2a2a2a" stroke-width="1.0"/>
<line x1="706.50" y1="279.13" x2="708.30" y2="279.13" stroke="#2a2a2a" stroke-width="1.0"/>
<line x1="406.80" y1="267.09" x2="408.60" y2="267.09" stroke="#2a2a2a" stroke-width="1.0"/>
<line x1="706.50" y1="267.09" x2="708.30" y2="267.09" stroke="#2a2a2a" stroke-width="1.0"/>
<line x1="405.00" y1="255.04" x2="408.60" y2="255.04" stroke="#2a2a2a" stroke-width="1.0"/>
<line x1="704.70" y1="255.04" x2="708.30" y2="255.04" stroke="#2a2a2a" stroke-width="1.0"/>
<line x1="406.80" y1="243.00" x2="408.60" y2="243.00" stroke="#2a2a2a" stroke-width="1.0"/>
<line x1="706.50" y1="243.00" x2="708.30" y2="243.00" stroke="#2a2a2a" stroke-width="1.0"/>
<text x="408.60" y="450.70" font-size="10.3" text-anchor="middle" >−0.5</text>
<text x="508.50" y="450.70" font-size="10.3" text-anchor="middle" >0</text>
<text x="608.40" y="450.70" font-size="10.3" text-anchor="middle" >0.5</text>
<text x="708.30" y="450.70" font-size="10.3" text-anchor="middle" >1.0</text>
<text x="402.00" y="439.60" font-size="10.3" text-anchor="end" >0.5</text>
<text x="402.00" y="379.38" font-size="10.3" text-anchor="end" >1.0</text>
<text x="402.00" y="319.16" font-size="10.3" text-anchor="end" >1.5</text>
<text x="402.00" y="258.94" font-size="10.3" text-anchor="end" >2.0</text>
<line x1="408.60" y1="286.30" x2="708.30" y2="361.10" stroke="#111" stroke-width="1.3"/>
<line x1="554.40" y1="297.20" x2="575.50" y2="297.20" stroke="#444" stroke-width="1.0"/>
<line x1="554.40" y1="295.60" x2="554.40" y2="298.80" stroke="#444" stroke-width="1.0"/>
<line x1="575.50" y1="295.60" x2="575.50" y2="298.80" stroke="#444" stroke-width="1.0"/>
<line x1="532.00" y1="305.40" x2="537.50" y2="305.40" stroke="#444" stroke-width="1.0"/>
<line x1="532.00" y1="303.80" x2="532.00" y2="307.00" stroke="#444" stroke-width="1.0"/>
<line x1="537.50" y1="303.80" x2="537.50" y2="307.00" stroke="#444" stroke-width="1.0"/>
<line x1="534.70" y1="299.30" x2="534.70" y2="310.90" stroke="#444" stroke-width="1.0"/>
<line x1="533.10" y1="299.30" x2="536.30" y2="299.30" stroke="#444" stroke-width="1.0"/>
<line x1="533.10" y1="310.90" x2="536.30" y2="310.90" stroke="#444" stroke-width="1.0"/>
<line x1="520.70" y1="307.90" x2="542.40" y2="307.90" stroke="#444" stroke-width="1.0"/>
<line x1="520.70" y1="306.30" x2="520.70" y2="309.50" stroke="#444" stroke-width="1.0"/>
<line x1="542.40" y1="306.30" x2="542.40" y2="309.50" stroke="#444" stroke-width="1.0"/>
<line x1="533.30" y1="324.20" x2="553.30" y2="324.20" stroke="#444" stroke-width="1.0"/>
<line x1="533.30" y1="322.60" x2="533.30" y2="325.80" stroke="#444" stroke-width="1.0"/>
<line x1="553.30" y1="322.60" x2="553.30" y2="325.80" stroke="#444" stroke-width="1.0"/>
<line x1="543.80" y1="321.70" x2="543.80" y2="326.50" stroke="#444" stroke-width="1.0"/>
<line x1="542.20" y1="321.70" x2="545.40" y2="321.70" stroke="#444" stroke-width="1.0"/>
<line x1="542.20" y1="326.50" x2="545.40" y2="326.50" stroke="#444" stroke-width="1.0"/>
<line x1="555.10" y1="323.10" x2="576.50" y2="323.10" stroke="#444" stroke-width="1.0"/>
<line x1="555.10" y1="321.50" x2="555.10" y2="324.70" stroke="#444" stroke-width="1.0"/>
<line x1="576.50" y1="321.50" x2="576.50" y2="324.70" stroke="#444" stroke-width="1.0"/>
<line x1="587.50" y1="325.10" x2="600.40" y2="325.10" stroke="#444" stroke-width="1.0"/>
<line x1="587.50" y1="323.50" x2="587.50" y2="326.70" stroke="#444" stroke-width="1.0"/>
<line x1="600.40" y1="323.50" x2="600.40" y2="326.70" stroke="#444" stroke-width="1.0"/>
<line x1="509.50" y1="340.80" x2="563.30" y2="340.80" stroke="#444" stroke-width="1.0"/>
<line x1="509.50" y1="339.20" x2="509.50" y2="342.40" stroke="#444" stroke-width="1.0"/>
<line x1="563.30" y1="339.20" x2="563.30" y2="342.40" stroke="#444" stroke-width="1.0"/>
<line x1="571.40" y1="343.20" x2="587.10" y2="343.20" stroke="#444" stroke-width="1.0"/>
<line x1="571.40" y1="341.60" x2="571.40" y2="344.80" stroke="#444" stroke-width="1.0"/>
<line x1="587.10" y1="341.60" x2="587.10" y2="344.80" stroke="#444" stroke-width="1.0"/>
<line x1="580.50" y1="341.00" x2="580.50" y2="345.50" stroke="#444" stroke-width="1.0"/>
<line x1="578.90" y1="341.00" x2="582.10" y2="341.00" stroke="#444" stroke-width="1.0"/>
<line x1="578.90" y1="345.50" x2="582.10" y2="345.50" stroke="#444" stroke-width="1.0"/>
<line x1="616.50" y1="328.00" x2="629.70" y2="328.00" stroke="#444" stroke-width="1.0"/>
<line x1="616.50" y1="326.40" x2="616.50" y2="329.60" stroke="#444" stroke-width="1.0"/>
<line x1="629.70" y1="326.40" x2="629.70" y2="329.60" stroke="#444" stroke-width="1.0"/>
<line x1="622.90" y1="325.60" x2="622.90" y2="330.40" stroke="#444" stroke-width="1.0"/>
<line x1="621.30" y1="325.60" x2="624.50" y2="325.60" stroke="#444" stroke-width="1.0"/>
<line x1="621.30" y1="330.40" x2="624.50" y2="330.40" stroke="#444" stroke-width="1.0"/>
<line x1="643.30" y1="329.50" x2="654.10" y2="329.50" stroke="#444" stroke-width="1.0"/>
<line x1="643.30" y1="327.90" x2="643.30" y2="331.10" stroke="#444" stroke-width="1.0"/>
<line x1="654.10" y1="327.90" x2="654.10" y2="331.10" stroke="#444" stroke-width="1.0"/>
<line x1="612.40" y1="334.50" x2="627.90" y2="334.50" stroke="#444" stroke-width="1.0"/>
<line x1="612.40" y1="332.90" x2="612.40" y2="336.10" stroke="#444" stroke-width="1.0"/>
<line x1="627.90" y1="332.90" x2="627.90" y2="336.10" stroke="#444" stroke-width="1.0"/>
<line x1="620.40" y1="330.40" x2="620.40" y2="338.60" stroke="#444" stroke-width="1.0"/>
<line x1="618.80" y1="330.40" x2="622.00" y2="330.40" stroke="#444" stroke-width="1.0"/>
<line x1="618.80" y1="338.60" x2="622.00" y2="338.60" stroke="#444" stroke-width="1.0"/>
<line x1="604.50" y1="339.70" x2="617.40" y2="339.70" stroke="#444" stroke-width="1.0"/>
<line x1="604.50" y1="338.10" x2="604.50" y2="341.30" stroke="#444" stroke-width="1.0"/>
<line x1="617.40" y1="338.10" x2="617.40" y2="341.30" stroke="#444" stroke-width="1.0"/>
<line x1="635.10" y1="350.40" x2="653.50" y2="350.40" stroke="#444" stroke-width="1.0"/>
<line x1="635.10" y1="348.80" x2="635.10" y2="352.00" stroke="#444" stroke-width="1.0"/>
<line x1="653.50" y1="348.80" x2="653.50" y2="352.00" stroke="#444" stroke-width="1.0"/>
<line x1="644.60" y1="348.00" x2="644.60" y2="353.30" stroke="#444" stroke-width="1.0"/>
<line x1="643.00" y1="348.00" x2="646.20" y2="348.00" stroke="#444" stroke-width="1.0"/>
<line x1="643.00" y1="353.30" x2="646.20" y2="353.30" stroke="#444" stroke-width="1.0"/>
<line x1="601.50" y1="364.40" x2="623.50" y2="364.40" stroke="#444" stroke-width="1.0"/>
<line x1="601.50" y1="362.80" x2="601.50" y2="366.00" stroke="#444" stroke-width="1.0"/>
<line x1="623.50" y1="362.80" x2="623.50" y2="366.00" stroke="#444" stroke-width="1.0"/>
<circle cx="565.30" cy="297.20" r="1.9" fill="#000"/>
<circle cx="534.70" cy="305.40" r="1.9" fill="#000"/>
<circle cx="532.40" cy="307.90" r="1.9" fill="#000"/>
<circle cx="543.80" cy="324.20" r="1.9" fill="#000"/>
<circle cx="566.70" cy="323.10" r="1.9" fill="#000"/>
<circle cx="593.90" cy="325.10" r="1.9" fill="#000"/>
<circle cx="540.50" cy="340.80" r="1.9" fill="#000"/>
<circle cx="580.50" cy="343.20" r="1.9" fill="#000"/>
<circle cx="622.90" cy="328.00" r="1.9" fill="#000"/>
<circle cx="648.70" cy="329.50" r="1.9" fill="#000"/>
<circle cx="620.40" cy="334.50" r="1.9" fill="#000"/>
<circle cx="611.30" cy="339.70" r="1.9" fill="#000"/>
<circle cx="608.80" cy="343.30" r="1.9" fill="#000"/>
<circle cx="644.60" cy="350.40" r="1.9" fill="#000"/>
<circle cx="613.30" cy="364.40" r="1.9" fill="#000"/>
<text x="696.80" y="258.10" font-size="10.5" text-anchor="end" >Late Type</text>
<text x="191.0" y="228.8" font-size="10.7" text-anchor="middle">r<tspan font-size="7.6" dy="2.6">bar</tspan><tspan dy="-2.6"> [kpc]</tspan></text>
<text x="558.3" y="228.2" font-size="10.7" text-anchor="middle">log(r<tspan font-size="7.6" dy="2.6">bar</tspan><tspan dy="-2.6"> [kpc])</tspan></text>
<text x="191.2" y="465.0" font-size="10.7" text-anchor="middle">log(r<tspan font-size="7.6" dy="2.6">bar</tspan><tspan dy="-2.6"> [kpc])</tspan></text>
<text x="558.5" y="465.3" font-size="10.7" text-anchor="middle">log(r<tspan font-size="7.6" dy="2.6">bar</tspan><tspan dy="-2.6"> [kpc])</tspan></text>
<text transform="translate(11.5,101.4) rotate(-90)" x="0" y="0" font-size="10.7" text-anchor="middle">Ω<tspan font-size="7.6" dy="2.6">bar</tspan><tspan dy="-2.6"> [km·s</tspan><tspan font-size="7.6" dy="-4">-1</tspan><tspan dy="4">·kpc</tspan><tspan font-size="7.6" dy="-4">-1</tspan><tspan dy="4">]</tspan></text>
<text transform="translate(378.8,101.8) rotate(-90)" x="0" y="0" font-size="10.7" text-anchor="middle">log(Ω<tspan font-size="7.6" dy="2.6">bar</tspan><tspan dy="-2.6"> [km·s</tspan><tspan font-size="7.6" dy="-4">-1</tspan><tspan dy="4">·kpc</tspan><tspan font-size="7.6" dy="-4">-1</tspan><tspan dy="4">)</tspan></text>
<text transform="translate(11.5,338.7) rotate(-90)" x="0" y="0" font-size="10.7" text-anchor="middle">log(Ω<tspan font-size="7.6" dy="2.6">bar</tspan><tspan dy="-2.6"> [km·s</tspan><tspan font-size="7.6" dy="-4">-1</tspan><tspan dy="4">·kpc</tspan><tspan font-size="7.6" dy="-4">-1</tspan><tspan dy="4">)</tspan></text>
<text transform="translate(378.8,340.0) rotate(-90)" x="0" y="0" font-size="10.7" text-anchor="middle">log(Ω<tspan font-size="7.6" dy="2.6">bar</tspan><tspan dy="-2.6"> [km·s</tspan><tspan font-size="7.6" dy="-4">-1</tspan><tspan dy="4">·kpc</tspan><tspan font-size="7.6" dy="-4">-1</tspan><tspan dy="4">)</tspan></text>
<text x="346.5" y="19.0" font-size="16.8" text-anchor="start" style="font-family:'Liberation Serif', serif;font-weight:bold">(a)</text>
<text x="714.7" y="18.9" font-size="16.8" text-anchor="start" style="font-family:'Liberation Serif', serif;font-weight:bold">(b)</text>
<text x="346.2" y="257.2" font-size="16.8" text-anchor="start" style="font-family:'Liberation Serif', serif;font-weight:bold">(c)</text>
<text x="714.2" y="256.9" font-size="16.8" text-anchor="start" style="font-family:'Liberation Serif', serif;font-weight:bold">(d)</text>
</svg>
</body></html>
